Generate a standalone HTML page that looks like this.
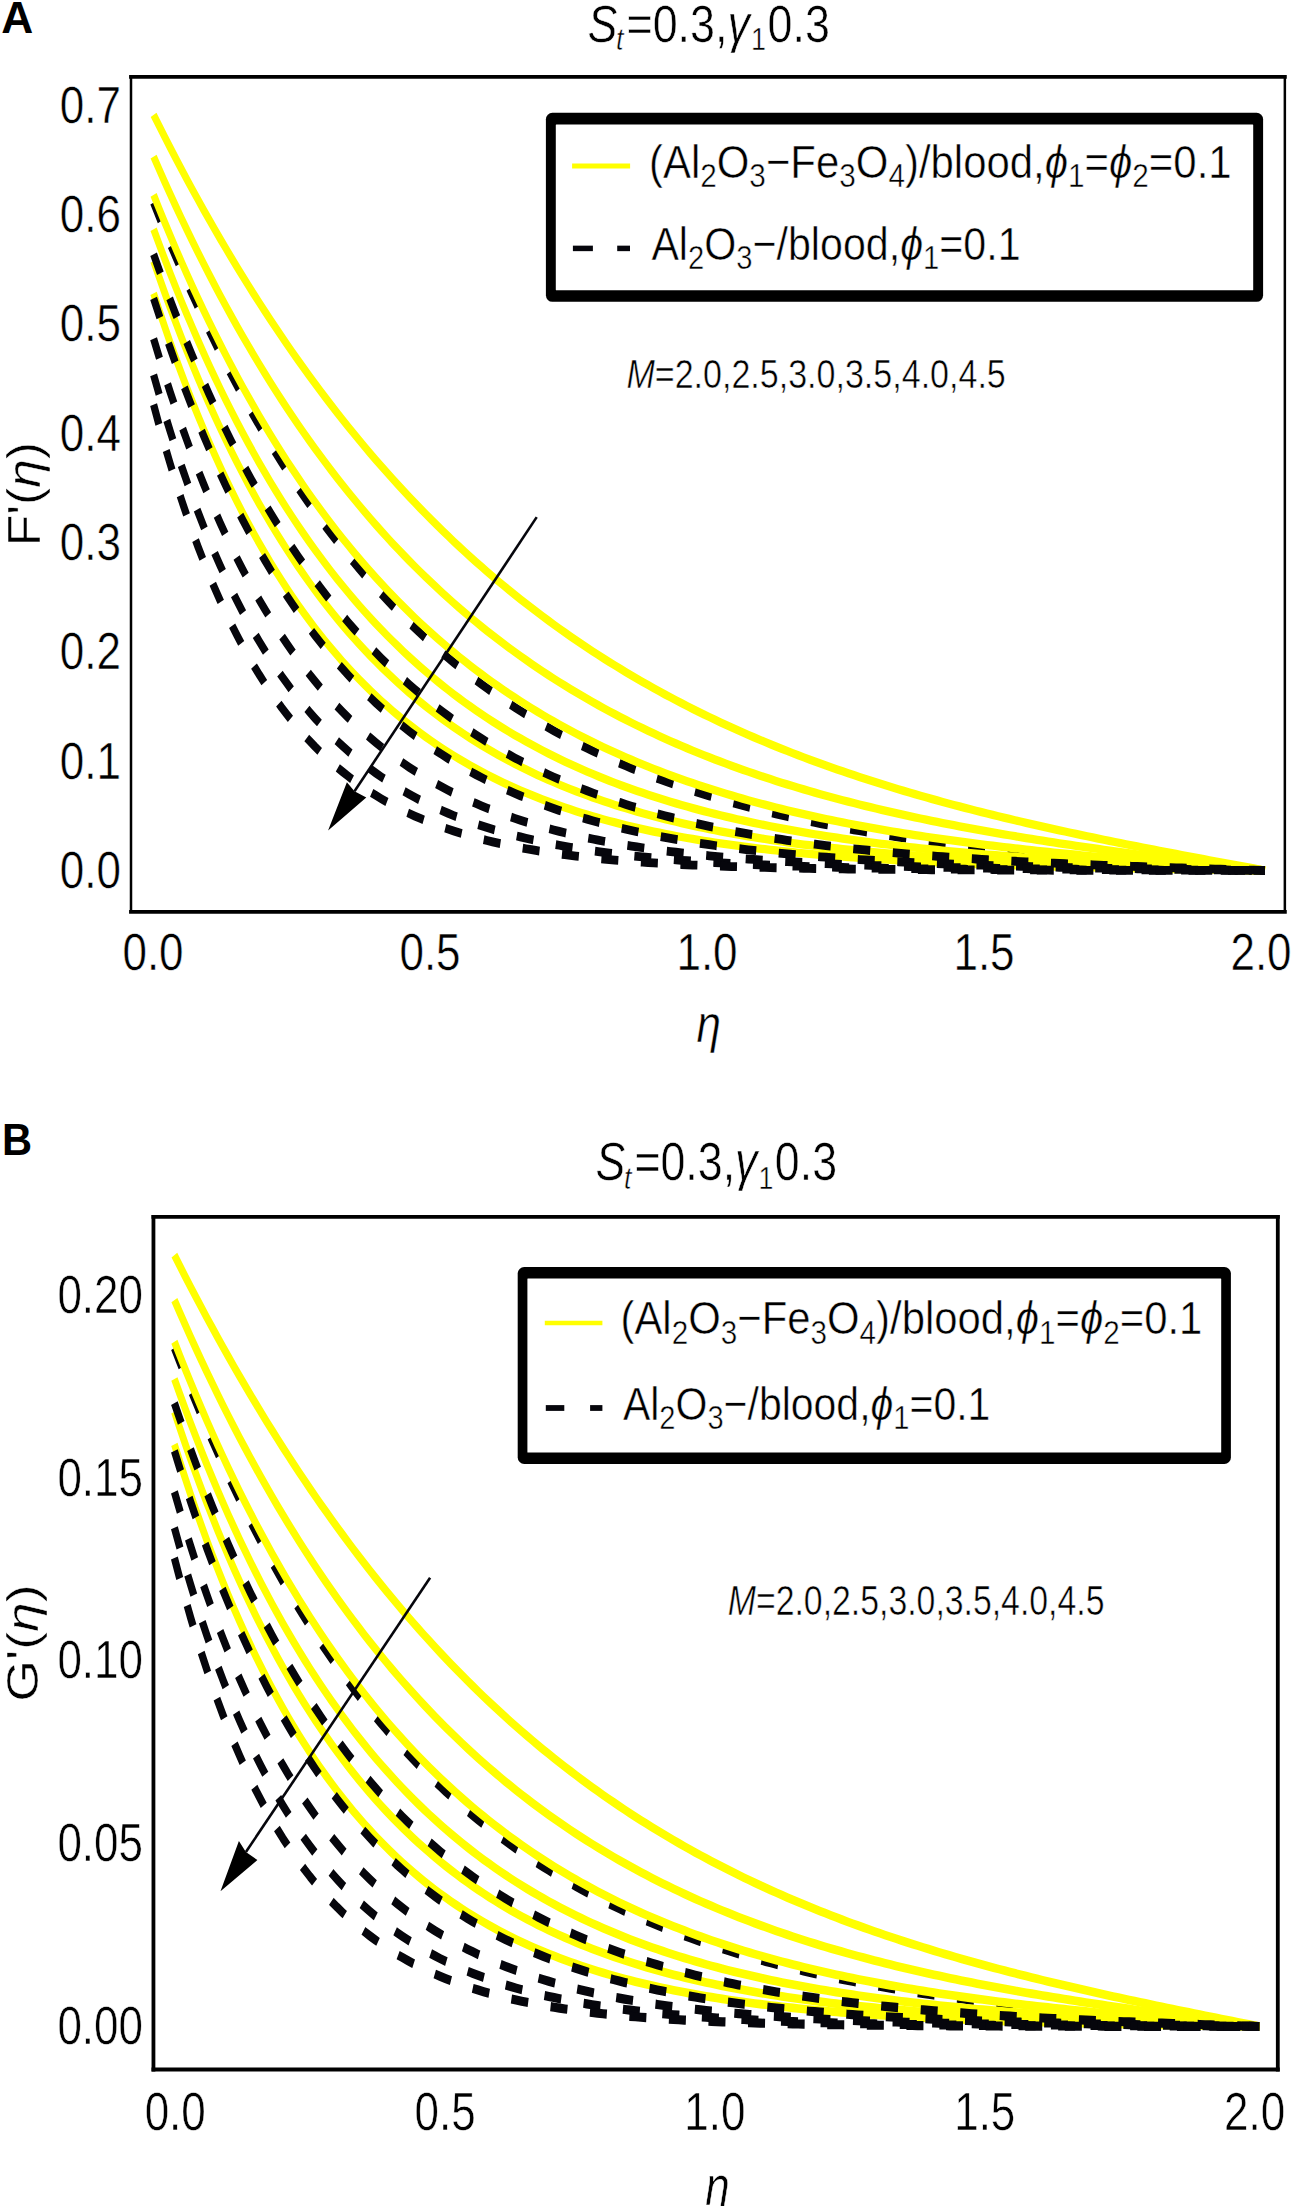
<!DOCTYPE html>
<html><head><meta charset="utf-8"><title>Figure</title>
<style>html,body{margin:0;padding:0;background:#fff}svg{display:block}</style></head><body>
<svg width="1294" height="2206" viewBox="0 0 1294 2206" font-family="'Liberation Sans', sans-serif" fill="#000">
<rect width="1294" height="2206" fill="#fff"/>
<g transform="scale(1 1.2200)" fill="none" stroke-linecap="butt" stroke-linejoin="round">
<path d="M153.60 166.04 L159.16 177.53 L164.71 188.79 L170.27 199.83 L175.83 210.63 L181.38 221.22 L186.94 231.60 L192.50 241.76 L198.06 251.72 L203.61 261.47 L209.17 271.02 L214.73 280.38 L220.28 289.55 L225.84 298.52 L231.40 307.32 L236.95 315.93 L242.51 324.37 L248.07 332.63 L253.63 340.73 L259.18 348.65 L264.74 356.42 L270.30 364.02 L275.85 371.47 L281.41 378.76 L286.97 385.90 L292.52 392.90 L298.08 399.75 L303.64 406.45 L309.20 413.02 L314.75 419.45 L320.31 425.75 L325.87 431.92 L331.42 437.95 L336.98 443.87 L342.54 449.66 L348.10 455.32 L353.65 460.87 L359.21 466.31 L364.77 471.63 L370.32 476.84 L375.88 481.93 L381.44 486.93 L386.99 491.81 L392.55 496.60 L398.11 501.28 L403.67 505.87 L409.22 510.36 L414.78 514.76 L420.34 519.06 L425.89 523.27 L431.45 527.39 L437.01 531.43 L442.56 535.38 L448.12 539.25 L453.68 543.03 L459.24 546.74 L464.79 550.36 L470.35 553.91 L475.91 557.39 L481.46 560.79 L487.02 564.12 L492.58 567.38 L498.13 570.57 L503.69 573.69 L509.25 576.74 L514.81 579.73 L520.36 582.66 L525.92 585.52 L531.48 588.33 L537.03 591.07 L542.59 593.75 L548.15 596.38 L553.70 598.95 L559.26 601.47 L564.82 603.93 L570.38 606.34 L575.93 608.70 L581.49 611.01 L587.05 613.27 L592.60 615.48 L598.16 617.65 L603.72 619.76 L609.27 621.84 L614.83 623.87 L620.39 625.85 L625.95 627.79 L631.50 629.69 L637.06 631.55 L642.62 633.38 L648.17 635.16 L653.73 636.90 L659.29 638.61 L664.84 640.28 L670.40 641.91 L675.96 643.51 L681.51 645.08 L687.07 646.61 L692.63 648.11 L698.19 649.58 L703.74 651.01 L709.30 652.42 L714.86 653.79 L720.41 655.14 L725.97 656.46 L731.53 657.75 L737.09 659.01 L742.64 660.24 L748.20 661.45 L753.76 662.64 L759.31 663.80 L764.87 664.93 L770.43 666.04 L775.98 667.13 L781.54 668.19 L787.10 669.23 L792.65 670.25 L798.21 671.25 L803.77 672.23 L809.33 673.19 L814.88 674.13 L820.44 675.04 L826.00 675.94 L831.55 676.82 L837.11 677.68 L842.67 678.53 L848.23 679.36 L853.78 680.17 L859.34 680.96 L864.90 681.74 L870.45 682.50 L876.01 683.24 L881.57 683.97 L887.12 684.69 L892.68 685.39 L898.24 686.08 L903.80 686.76 L909.35 687.42 L914.91 688.06 L920.47 688.70 L926.02 689.32 L931.58 689.93 L937.14 690.53 L942.69 691.12 L948.25 691.70 L953.81 692.26 L959.37 692.82 L964.92 693.36 L970.48 693.90 L976.04 694.42 L981.59 694.94 L987.15 695.44 L992.71 695.94 L998.26 696.43 L1003.82 696.91 L1009.38 697.38 L1014.94 697.84 L1020.49 698.30 L1026.05 698.74 L1031.61 699.18 L1037.16 699.62 L1042.72 700.04 L1048.28 700.46 L1053.83 700.88 L1059.39 701.28 L1064.95 701.68 L1070.50 702.08 L1076.06 702.47 L1081.62 702.85 L1087.18 703.23 L1092.73 703.60 L1098.29 703.97 L1103.85 704.33 L1109.40 704.69 L1114.96 705.04 L1120.52 705.39 L1126.08 705.74 L1131.63 706.08 L1137.19 706.42 L1142.75 706.75 L1148.30 707.08 L1153.86 707.41 L1159.42 707.73 L1164.97 708.05 L1170.53 708.37 L1176.09 708.69 L1181.64 709.00 L1187.20 709.32 L1192.76 709.62 L1198.32 709.93 L1203.87 710.24 L1209.43 710.54 L1214.99 710.84 L1220.54 711.15 L1226.10 711.45 L1231.66 711.74 L1237.21 712.04 L1242.77 712.34 L1248.33 712.64 L1253.89 712.93 L1259.44 713.23 L1265.00 713.52" stroke="#06060c" stroke-width="7.20" stroke-dasharray="17 22.6"/>
<path d="M153.60 94.10 L159.16 103.22 L164.71 112.23 L170.27 121.11 L175.83 129.88 L181.38 138.53 L186.94 147.06 L192.50 155.48 L198.06 163.78 L203.61 171.97 L209.17 180.05 L214.73 188.03 L220.28 195.89 L225.84 203.64 L231.40 211.30 L236.95 218.84 L242.51 226.28 L248.07 233.63 L253.63 240.87 L259.18 248.01 L264.74 255.05 L270.30 261.99 L275.85 268.84 L281.41 275.59 L286.97 282.25 L292.52 288.82 L298.08 295.30 L303.64 301.68 L309.20 307.98 L314.75 314.19 L320.31 320.31 L325.87 326.34 L331.42 332.29 L336.98 338.16 L342.54 343.94 L348.10 349.64 L353.65 355.26 L359.21 360.80 L364.77 366.27 L370.32 371.65 L375.88 376.96 L381.44 382.19 L386.99 387.35 L392.55 392.43 L398.11 397.45 L403.67 402.39 L409.22 407.25 L414.78 412.05 L420.34 416.78 L425.89 421.45 L431.45 426.04 L437.01 430.57 L442.56 435.03 L448.12 439.43 L453.68 443.77 L459.24 448.04 L464.79 452.25 L470.35 456.40 L475.91 460.49 L481.46 464.52 L487.02 468.49 L492.58 472.41 L498.13 476.26 L503.69 480.06 L509.25 483.81 L514.81 487.50 L520.36 491.14 L525.92 494.72 L531.48 498.25 L537.03 501.73 L542.59 505.16 L548.15 508.54 L553.70 511.87 L559.26 515.15 L564.82 518.38 L570.38 521.57 L575.93 524.71 L581.49 527.80 L587.05 530.85 L592.60 533.85 L598.16 536.81 L603.72 539.73 L609.27 542.60 L614.83 545.43 L620.39 548.22 L625.95 550.97 L631.50 553.68 L637.06 556.35 L642.62 558.98 L648.17 561.57 L653.73 564.13 L659.29 566.65 L664.84 569.13 L670.40 571.57 L675.96 573.98 L681.51 576.35 L687.07 578.69 L692.63 581.00 L698.19 583.27 L703.74 585.51 L709.30 587.72 L714.86 589.90 L720.41 592.04 L725.97 594.15 L731.53 596.24 L737.09 598.29 L742.64 600.31 L748.20 602.31 L753.76 604.28 L759.31 606.22 L764.87 608.13 L770.43 610.01 L775.98 611.87 L781.54 613.70 L787.10 615.51 L792.65 617.29 L798.21 619.05 L803.77 620.78 L809.33 622.49 L814.88 624.17 L820.44 625.84 L826.00 627.47 L831.55 629.09 L837.11 630.69 L842.67 632.26 L848.23 633.81 L853.78 635.34 L859.34 636.85 L864.90 638.35 L870.45 639.82 L876.01 641.27 L881.57 642.70 L887.12 644.12 L892.68 645.52 L898.24 646.90 L903.80 648.26 L909.35 649.60 L914.91 650.93 L920.47 652.24 L926.02 653.54 L931.58 654.82 L937.14 656.08 L942.69 657.33 L948.25 658.56 L953.81 659.78 L959.37 660.99 L964.92 662.18 L970.48 663.36 L976.04 664.52 L981.59 665.67 L987.15 666.81 L992.71 667.94 L998.26 669.06 L1003.82 670.16 L1009.38 671.25 L1014.94 672.33 L1020.49 673.40 L1026.05 674.46 L1031.61 675.51 L1037.16 676.54 L1042.72 677.57 L1048.28 678.59 L1053.83 679.60 L1059.39 680.60 L1064.95 681.59 L1070.50 682.57 L1076.06 683.55 L1081.62 684.52 L1087.18 685.48 L1092.73 686.43 L1098.29 687.37 L1103.85 688.31 L1109.40 689.24 L1114.96 690.16 L1120.52 691.08 L1126.08 691.99 L1131.63 692.90 L1137.19 693.80 L1142.75 694.69 L1148.30 695.58 L1153.86 696.47 L1159.42 697.35 L1164.97 698.23 L1170.53 699.10 L1176.09 699.97 L1181.64 700.83 L1187.20 701.69 L1192.76 702.55 L1198.32 703.41 L1203.87 704.26 L1209.43 705.11 L1214.99 705.96 L1220.54 706.80 L1226.10 707.65 L1231.66 708.49 L1237.21 709.33 L1242.77 710.17 L1248.33 711.01 L1253.89 711.85 L1259.44 712.69 L1265.00 713.52" stroke="#ffff00" stroke-width="6.80"/>
<path d="M153.60 128.41 L159.16 138.87 L164.71 149.14 L170.27 159.23 L175.83 169.14 L181.38 178.88 L186.94 188.44 L192.50 197.84 L198.06 207.07 L203.61 216.14 L209.17 225.05 L214.73 233.80 L220.28 242.40 L225.84 250.84 L231.40 259.14 L236.95 267.29 L242.51 275.30 L248.07 283.16 L253.63 290.89 L259.18 298.48 L264.74 305.93 L270.30 313.26 L275.85 320.45 L281.41 327.52 L286.97 334.46 L292.52 341.28 L298.08 347.98 L303.64 354.56 L309.20 361.02 L314.75 367.37 L320.31 373.60 L325.87 379.73 L331.42 385.75 L336.98 391.66 L342.54 397.47 L348.10 403.17 L353.65 408.77 L359.21 414.28 L364.77 419.68 L370.32 424.99 L375.88 430.21 L381.44 435.33 L386.99 440.36 L392.55 445.31 L398.11 450.16 L403.67 454.93 L409.22 459.62 L414.78 464.22 L420.34 468.74 L425.89 473.18 L431.45 477.55 L437.01 481.83 L442.56 486.04 L448.12 490.17 L453.68 494.24 L459.24 498.22 L464.79 502.14 L470.35 505.99 L475.91 509.77 L481.46 513.49 L487.02 517.14 L492.58 520.72 L498.13 524.24 L503.69 527.70 L509.25 531.10 L514.81 534.43 L520.36 537.71 L525.92 540.93 L531.48 544.10 L537.03 547.20 L542.59 550.26 L548.15 553.26 L553.70 556.20 L559.26 559.10 L564.82 561.94 L570.38 564.73 L575.93 567.48 L581.49 570.17 L587.05 572.82 L592.60 575.42 L598.16 577.98 L603.72 580.49 L609.27 582.96 L614.83 585.38 L620.39 587.77 L625.95 590.11 L631.50 592.41 L637.06 594.67 L642.62 596.89 L648.17 599.07 L653.73 601.21 L659.29 603.32 L664.84 605.39 L670.40 607.42 L675.96 609.42 L681.51 611.38 L687.07 613.31 L692.63 615.21 L698.19 617.07 L703.74 618.91 L709.30 620.71 L714.86 622.48 L720.41 624.22 L725.97 625.93 L731.53 627.61 L737.09 629.26 L742.64 630.88 L748.20 632.48 L753.76 634.05 L759.31 635.59 L764.87 637.11 L770.43 638.60 L775.98 640.07 L781.54 641.51 L787.10 642.93 L792.65 644.33 L798.21 645.70 L803.77 647.05 L809.33 648.37 L814.88 649.68 L820.44 650.96 L826.00 652.23 L831.55 653.47 L837.11 654.69 L842.67 655.89 L848.23 657.08 L853.78 658.24 L859.34 659.39 L864.90 660.52 L870.45 661.63 L876.01 662.72 L881.57 663.80 L887.12 664.86 L892.68 665.90 L898.24 666.93 L903.80 667.94 L909.35 668.94 L914.91 669.92 L920.47 670.89 L926.02 671.84 L931.58 672.78 L937.14 673.71 L942.69 674.62 L948.25 675.52 L953.81 676.40 L959.37 677.28 L964.92 678.14 L970.48 678.99 L976.04 679.83 L981.59 680.66 L987.15 681.47 L992.71 682.28 L998.26 683.07 L1003.82 683.86 L1009.38 684.63 L1014.94 685.40 L1020.49 686.15 L1026.05 686.90 L1031.61 687.64 L1037.16 688.37 L1042.72 689.09 L1048.28 689.80 L1053.83 690.50 L1059.39 691.20 L1064.95 691.89 L1070.50 692.57 L1076.06 693.25 L1081.62 693.92 L1087.18 694.58 L1092.73 695.23 L1098.29 695.88 L1103.85 696.52 L1109.40 697.16 L1114.96 697.79 L1120.52 698.42 L1126.08 699.04 L1131.63 699.66 L1137.19 700.27 L1142.75 700.88 L1148.30 701.48 L1153.86 702.08 L1159.42 702.68 L1164.97 703.27 L1170.53 703.86 L1176.09 704.44 L1181.64 705.03 L1187.20 705.61 L1192.76 706.18 L1198.32 706.76 L1203.87 707.33 L1209.43 707.90 L1214.99 708.47 L1220.54 709.03 L1226.10 709.60 L1231.66 710.16 L1237.21 710.72 L1242.77 711.28 L1248.33 711.85 L1253.89 712.41 L1259.44 712.97 L1265.00 713.52" stroke="#ffff00" stroke-width="6.80"/>
<path d="M153.60 159.68 L159.16 171.09 L164.71 182.26 L170.27 193.21 L175.83 203.93 L181.38 214.44 L186.94 224.73 L192.50 234.81 L198.06 244.68 L203.61 254.36 L209.17 263.83 L214.73 273.11 L220.28 282.20 L225.84 291.11 L231.40 299.83 L236.95 308.38 L242.51 316.75 L248.07 324.95 L253.63 332.98 L259.18 340.85 L264.74 348.55 L270.30 356.10 L275.85 363.50 L281.41 370.74 L286.97 377.83 L292.52 384.78 L298.08 391.59 L303.64 398.25 L309.20 404.78 L314.75 411.18 L320.31 417.45 L325.87 423.58 L331.42 429.59 L336.98 435.48 L342.54 441.25 L348.10 446.89 L353.65 452.43 L359.21 457.84 L364.77 463.15 L370.32 468.35 L375.88 473.44 L381.44 478.43 L386.99 483.31 L392.55 488.10 L398.11 492.78 L403.67 497.37 L409.22 501.87 L414.78 506.27 L420.34 510.58 L425.89 514.81 L431.45 518.94 L437.01 523.00 L442.56 526.96 L448.12 530.85 L453.68 534.66 L459.24 538.39 L464.79 542.04 L470.35 545.62 L475.91 549.12 L481.46 552.55 L487.02 555.91 L492.58 559.21 L498.13 562.43 L503.69 565.59 L509.25 568.68 L514.81 571.71 L520.36 574.68 L525.92 577.59 L531.48 580.43 L537.03 583.22 L542.59 585.95 L548.15 588.63 L553.70 591.25 L559.26 593.81 L564.82 596.33 L570.38 598.79 L575.93 601.20 L581.49 603.57 L587.05 605.88 L592.60 608.15 L598.16 610.37 L603.72 612.54 L609.27 614.67 L614.83 616.76 L620.39 618.80 L625.95 620.80 L631.50 622.76 L637.06 624.69 L642.62 626.57 L648.17 628.41 L653.73 630.22 L659.29 631.99 L664.84 633.72 L670.40 635.42 L675.96 637.08 L681.51 638.71 L687.07 640.31 L692.63 641.87 L698.19 643.41 L703.74 644.91 L709.30 646.38 L714.86 647.82 L720.41 649.23 L725.97 650.62 L731.53 651.97 L737.09 653.30 L742.64 654.61 L748.20 655.88 L753.76 657.13 L759.31 658.36 L764.87 659.56 L770.43 660.74 L775.98 661.89 L781.54 663.02 L787.10 664.13 L792.65 665.22 L798.21 666.29 L803.77 667.33 L809.33 668.35 L814.88 669.36 L820.44 670.34 L826.00 671.31 L831.55 672.25 L837.11 673.18 L842.67 674.09 L848.23 674.99 L853.78 675.86 L859.34 676.72 L864.90 677.56 L870.45 678.39 L876.01 679.20 L881.57 680.00 L887.12 680.78 L892.68 681.55 L898.24 682.30 L903.80 683.04 L909.35 683.76 L914.91 684.47 L920.47 685.17 L926.02 685.86 L931.58 686.53 L937.14 687.19 L942.69 687.84 L948.25 688.48 L953.81 689.11 L959.37 689.73 L964.92 690.33 L970.48 690.93 L976.04 691.51 L981.59 692.09 L987.15 692.66 L992.71 693.21 L998.26 693.76 L1003.82 694.30 L1009.38 694.83 L1014.94 695.36 L1020.49 695.87 L1026.05 696.38 L1031.61 696.87 L1037.16 697.37 L1042.72 697.85 L1048.28 698.33 L1053.83 698.80 L1059.39 699.26 L1064.95 699.72 L1070.50 700.17 L1076.06 700.62 L1081.62 701.06 L1087.18 701.49 L1092.73 701.92 L1098.29 702.34 L1103.85 702.76 L1109.40 703.18 L1114.96 703.59 L1120.52 703.99 L1126.08 704.39 L1131.63 704.79 L1137.19 705.18 L1142.75 705.57 L1148.30 705.96 L1153.86 706.34 L1159.42 706.72 L1164.97 707.09 L1170.53 707.47 L1176.09 707.84 L1181.64 708.20 L1187.20 708.57 L1192.76 708.93 L1198.32 709.29 L1203.87 709.65 L1209.43 710.01 L1214.99 710.37 L1220.54 710.72 L1226.10 711.07 L1231.66 711.43 L1237.21 711.78 L1242.77 712.13 L1248.33 712.48 L1253.89 712.83 L1259.44 713.18 L1265.00 713.52" stroke="#ffff00" stroke-width="6.80"/>
<path d="M153.60 187.90 L159.16 200.26 L164.71 212.34 L170.27 224.13 L175.83 235.65 L181.38 246.90 L186.94 257.89 L192.50 268.62 L198.06 279.10 L203.61 289.33 L209.17 299.32 L214.73 309.08 L220.28 318.62 L225.84 327.92 L231.40 337.02 L236.95 345.89 L242.51 354.56 L248.07 363.03 L253.63 371.30 L259.18 379.37 L264.74 387.26 L270.30 394.96 L275.85 402.48 L281.41 409.82 L286.97 416.99 L292.52 424.00 L298.08 430.84 L303.64 437.51 L309.20 444.04 L314.75 450.40 L320.31 456.62 L325.87 462.70 L331.42 468.63 L336.98 474.42 L342.54 480.07 L348.10 485.59 L353.65 490.99 L359.21 496.25 L364.77 501.39 L370.32 506.41 L375.88 511.32 L381.44 516.10 L386.99 520.78 L392.55 525.34 L398.11 529.80 L403.67 534.15 L409.22 538.40 L414.78 542.55 L420.34 546.61 L425.89 550.56 L431.45 554.43 L437.01 558.20 L442.56 561.89 L448.12 565.48 L453.68 569.00 L459.24 572.43 L464.79 575.77 L470.35 579.05 L475.91 582.24 L481.46 585.36 L487.02 588.40 L492.58 591.37 L498.13 594.28 L503.69 597.11 L509.25 599.88 L514.81 602.58 L520.36 605.22 L525.92 607.80 L531.48 610.31 L537.03 612.77 L542.59 615.17 L548.15 617.51 L553.70 619.80 L559.26 622.03 L564.82 624.21 L570.38 626.34 L575.93 628.42 L581.49 630.45 L587.05 632.44 L592.60 634.37 L598.16 636.26 L603.72 638.11 L609.27 639.91 L614.83 641.67 L620.39 643.39 L625.95 645.07 L631.50 646.71 L637.06 648.31 L642.62 649.87 L648.17 651.40 L653.73 652.89 L659.29 654.34 L664.84 655.76 L670.40 657.15 L675.96 658.51 L681.51 659.83 L687.07 661.12 L692.63 662.38 L698.19 663.62 L703.74 664.82 L709.30 666.00 L714.86 667.15 L720.41 668.27 L725.97 669.36 L731.53 670.43 L737.09 671.48 L742.64 672.50 L748.20 673.50 L753.76 674.47 L759.31 675.42 L764.87 676.35 L770.43 677.26 L775.98 678.14 L781.54 679.01 L787.10 679.86 L792.65 680.68 L798.21 681.49 L803.77 682.28 L809.33 683.05 L814.88 683.81 L820.44 684.54 L826.00 685.26 L831.55 685.97 L837.11 686.65 L842.67 687.33 L848.23 687.98 L853.78 688.62 L859.34 689.25 L864.90 689.86 L870.45 690.46 L876.01 691.05 L881.57 691.62 L887.12 692.18 L892.68 692.73 L898.24 693.27 L903.80 693.79 L909.35 694.31 L914.91 694.81 L920.47 695.30 L926.02 695.78 L931.58 696.25 L937.14 696.71 L942.69 697.16 L948.25 697.60 L953.81 698.03 L959.37 698.45 L964.92 698.87 L970.48 699.27 L976.04 699.67 L981.59 700.06 L987.15 700.44 L992.71 700.82 L998.26 701.18 L1003.82 701.54 L1009.38 701.89 L1014.94 702.24 L1020.49 702.58 L1026.05 702.91 L1031.61 703.24 L1037.16 703.56 L1042.72 703.87 L1048.28 704.18 L1053.83 704.48 L1059.39 704.78 L1064.95 705.08 L1070.50 705.36 L1076.06 705.65 L1081.62 705.93 L1087.18 706.20 L1092.73 706.47 L1098.29 706.74 L1103.85 707.00 L1109.40 707.26 L1114.96 707.51 L1120.52 707.77 L1126.08 708.01 L1131.63 708.26 L1137.19 708.50 L1142.75 708.74 L1148.30 708.98 L1153.86 709.21 L1159.42 709.44 L1164.97 709.67 L1170.53 709.89 L1176.09 710.12 L1181.64 710.34 L1187.20 710.56 L1192.76 710.78 L1198.32 711.00 L1203.87 711.21 L1209.43 711.43 L1214.99 711.64 L1220.54 711.85 L1226.10 712.06 L1231.66 712.27 L1237.21 712.48 L1242.77 712.69 L1248.33 712.90 L1253.89 713.11 L1259.44 713.32 L1265.00 713.52" stroke="#ffff00" stroke-width="6.80"/>
<path d="M153.60 213.97 L159.16 227.13 L164.71 239.95 L170.27 252.43 L175.83 264.59 L181.38 276.43 L186.94 287.95 L192.50 299.17 L198.06 310.10 L203.61 320.75 L209.17 331.11 L214.73 341.20 L220.28 351.03 L225.84 360.60 L231.40 369.91 L236.95 378.98 L242.51 387.82 L248.07 396.42 L253.63 404.80 L259.18 412.95 L264.74 420.89 L270.30 428.63 L275.85 436.15 L281.41 443.49 L286.97 450.62 L292.52 457.57 L298.08 464.34 L303.64 470.93 L309.20 477.35 L314.75 483.59 L320.31 489.68 L325.87 495.60 L331.42 501.37 L336.98 506.98 L342.54 512.45 L348.10 517.77 L353.65 522.95 L359.21 528.00 L364.77 532.91 L370.32 537.70 L375.88 542.35 L381.44 546.89 L386.99 551.30 L392.55 555.60 L398.11 559.79 L403.67 563.86 L409.22 567.83 L414.78 571.69 L420.34 575.45 L425.89 579.11 L431.45 582.68 L437.01 586.15 L442.56 589.53 L448.12 592.82 L453.68 596.02 L459.24 599.14 L464.79 602.17 L470.35 605.13 L475.91 608.01 L481.46 610.81 L487.02 613.53 L492.58 616.19 L498.13 618.78 L503.69 621.29 L509.25 623.74 L514.81 626.13 L520.36 628.45 L525.92 630.71 L531.48 632.91 L537.03 635.06 L542.59 637.14 L548.15 639.18 L553.70 641.15 L559.26 643.08 L564.82 644.95 L570.38 646.78 L575.93 648.56 L581.49 650.29 L587.05 651.97 L592.60 653.61 L598.16 655.21 L603.72 656.76 L609.27 658.27 L614.83 659.75 L620.39 661.18 L625.95 662.58 L631.50 663.94 L637.06 665.26 L642.62 666.55 L648.17 667.80 L653.73 669.03 L659.29 670.22 L664.84 671.37 L670.40 672.50 L675.96 673.60 L681.51 674.67 L687.07 675.71 L692.63 676.72 L698.19 677.71 L703.74 678.67 L709.30 679.60 L714.86 680.51 L720.41 681.40 L725.97 682.26 L731.53 683.10 L737.09 683.92 L742.64 684.72 L748.20 685.49 L753.76 686.25 L759.31 686.99 L764.87 687.70 L770.43 688.40 L775.98 689.08 L781.54 689.74 L787.10 690.39 L792.65 691.01 L798.21 691.63 L803.77 692.22 L809.33 692.80 L814.88 693.37 L820.44 693.92 L826.00 694.45 L831.55 694.98 L837.11 695.48 L842.67 695.98 L848.23 696.46 L853.78 696.93 L859.34 697.39 L864.90 697.84 L870.45 698.27 L876.01 698.70 L881.57 699.11 L887.12 699.51 L892.68 699.91 L898.24 700.29 L903.80 700.66 L909.35 701.03 L914.91 701.38 L920.47 701.73 L926.02 702.06 L931.58 702.39 L937.14 702.71 L942.69 703.03 L948.25 703.33 L953.81 703.63 L959.37 703.92 L964.92 704.21 L970.48 704.48 L976.04 704.75 L981.59 705.02 L987.15 705.27 L992.71 705.53 L998.26 705.77 L1003.82 706.01 L1009.38 706.25 L1014.94 706.48 L1020.49 706.70 L1026.05 706.92 L1031.61 707.14 L1037.16 707.35 L1042.72 707.55 L1048.28 707.75 L1053.83 707.95 L1059.39 708.14 L1064.95 708.33 L1070.50 708.52 L1076.06 708.70 L1081.62 708.88 L1087.18 709.05 L1092.73 709.22 L1098.29 709.39 L1103.85 709.56 L1109.40 709.72 L1114.96 709.88 L1120.52 710.03 L1126.08 710.19 L1131.63 710.34 L1137.19 710.49 L1142.75 710.64 L1148.30 710.78 L1153.86 710.93 L1159.42 711.07 L1164.97 711.21 L1170.53 711.34 L1176.09 711.48 L1181.64 711.62 L1187.20 711.75 L1192.76 711.88 L1198.32 712.01 L1203.87 712.14 L1209.43 712.27 L1214.99 712.40 L1220.54 712.53 L1226.10 712.65 L1231.66 712.78 L1237.21 712.90 L1242.77 713.03 L1248.33 713.15 L1253.89 713.28 L1259.44 713.40 L1265.00 713.52" stroke="#ffff00" stroke-width="6.80"/>
<path d="M153.60 240.49 L159.16 254.38 L164.71 267.86 L170.27 280.95 L175.83 293.66 L181.38 305.99 L186.94 317.97 L192.50 329.59 L198.06 340.87 L203.61 351.83 L209.17 362.46 L214.73 372.78 L220.28 382.80 L225.84 392.53 L231.40 401.97 L236.95 411.13 L242.51 420.03 L248.07 428.66 L253.63 437.04 L259.18 445.18 L264.74 453.08 L270.30 460.74 L275.85 468.19 L281.41 475.41 L286.97 482.42 L292.52 489.23 L298.08 495.83 L303.64 502.24 L309.20 508.47 L314.75 514.51 L320.31 520.37 L325.87 526.06 L331.42 531.59 L336.98 536.95 L342.54 542.16 L348.10 547.21 L353.65 552.11 L359.21 556.87 L364.77 561.49 L370.32 565.97 L375.88 570.33 L381.44 574.55 L386.99 578.65 L392.55 582.63 L398.11 586.49 L403.67 590.24 L409.22 593.88 L414.78 597.41 L420.34 600.84 L425.89 604.16 L431.45 607.39 L437.01 610.53 L442.56 613.57 L448.12 616.52 L453.68 619.39 L459.24 622.17 L464.79 624.87 L470.35 627.48 L475.91 630.03 L481.46 632.49 L487.02 634.89 L492.58 637.21 L498.13 639.47 L503.69 641.66 L509.25 643.78 L514.81 645.84 L520.36 647.85 L525.92 649.79 L531.48 651.67 L537.03 653.50 L542.59 655.28 L548.15 657.00 L553.70 658.67 L559.26 660.30 L564.82 661.87 L570.38 663.40 L575.93 664.89 L581.49 666.33 L587.05 667.72 L592.60 669.08 L598.16 670.40 L603.72 671.67 L609.27 672.91 L614.83 674.12 L620.39 675.29 L625.95 676.42 L631.50 677.52 L637.06 678.59 L642.62 679.62 L648.17 680.63 L653.73 681.60 L659.29 682.55 L664.84 683.47 L670.40 684.36 L675.96 685.23 L681.51 686.07 L687.07 686.89 L692.63 687.68 L698.19 688.45 L703.74 689.19 L709.30 689.91 L714.86 690.62 L720.41 691.30 L725.97 691.96 L731.53 692.60 L737.09 693.23 L742.64 693.83 L748.20 694.42 L753.76 694.99 L759.31 695.54 L764.87 696.08 L770.43 696.60 L775.98 697.11 L781.54 697.60 L787.10 698.07 L792.65 698.54 L798.21 698.99 L803.77 699.42 L809.33 699.85 L814.88 700.26 L820.44 700.66 L826.00 701.04 L831.55 701.42 L837.11 701.79 L842.67 702.14 L848.23 702.49 L853.78 702.82 L859.34 703.14 L864.90 703.46 L870.45 703.77 L876.01 704.06 L881.57 704.35 L887.12 704.63 L892.68 704.91 L898.24 705.17 L903.80 705.43 L909.35 705.68 L914.91 705.92 L920.47 706.16 L926.02 706.39 L931.58 706.61 L937.14 706.82 L942.69 707.03 L948.25 707.24 L953.81 707.44 L959.37 707.63 L964.92 707.82 L970.48 708.00 L976.04 708.18 L981.59 708.35 L987.15 708.52 L992.71 708.69 L998.26 708.85 L1003.82 709.00 L1009.38 709.15 L1014.94 709.30 L1020.49 709.44 L1026.05 709.58 L1031.61 709.72 L1037.16 709.85 L1042.72 709.98 L1048.28 710.11 L1053.83 710.23 L1059.39 710.35 L1064.95 710.47 L1070.50 710.58 L1076.06 710.69 L1081.62 710.80 L1087.18 710.91 L1092.73 711.01 L1098.29 711.12 L1103.85 711.22 L1109.40 711.31 L1114.96 711.41 L1120.52 711.50 L1126.08 711.60 L1131.63 711.69 L1137.19 711.77 L1142.75 711.86 L1148.30 711.95 L1153.86 712.03 L1159.42 712.11 L1164.97 712.20 L1170.53 712.28 L1176.09 712.35 L1181.64 712.43 L1187.20 712.51 L1192.76 712.59 L1198.32 712.66 L1203.87 712.74 L1209.43 712.81 L1214.99 712.88 L1220.54 712.96 L1226.10 713.03 L1231.66 713.10 L1237.21 713.17 L1242.77 713.24 L1248.33 713.31 L1253.89 713.38 L1259.44 713.45 L1265.00 713.52" stroke="#ffff00" stroke-width="6.80"/>
<path d="M153.60 208.42 L159.16 221.24 L164.71 233.74 L170.27 245.93 L175.83 257.82 L181.38 269.42 L186.94 280.72 L192.50 291.75 L198.06 302.50 L203.61 312.98 L209.17 323.20 L214.73 333.17 L220.28 342.89 L225.84 352.36 L231.40 361.60 L236.95 370.60 L242.51 379.38 L248.07 387.94 L253.63 396.29 L259.18 404.42 L264.74 412.35 L270.30 420.09 L275.85 427.62 L281.41 434.97 L286.97 442.13 L292.52 449.11 L298.08 455.92 L303.64 462.55 L309.20 469.02 L314.75 475.32 L320.31 481.46 L325.87 487.45 L331.42 493.29 L336.98 498.98 L342.54 504.52 L348.10 509.92 L353.65 515.19 L359.21 520.32 L364.77 525.32 L370.32 530.19 L375.88 534.94 L381.44 539.57 L386.99 544.08 L392.55 548.48 L398.11 552.76 L403.67 556.94 L409.22 561.00 L414.78 564.97 L420.34 568.83 L425.89 572.59 L431.45 576.26 L437.01 579.83 L442.56 583.32 L448.12 586.71 L453.68 590.01 L459.24 593.23 L464.79 596.37 L470.35 599.43 L475.91 602.41 L481.46 605.31 L487.02 608.14 L492.58 610.89 L498.13 613.57 L503.69 616.19 L509.25 618.74 L514.81 621.22 L520.36 623.63 L525.92 625.99 L531.48 628.28 L537.03 630.52 L542.59 632.69 L548.15 634.82 L553.70 636.88 L559.26 638.89 L564.82 640.85 L570.38 642.76 L575.93 644.62 L581.49 646.44 L587.05 648.20 L592.60 649.92 L598.16 651.60 L603.72 653.23 L609.27 654.82 L614.83 656.36 L620.39 657.87 L625.95 659.34 L631.50 660.77 L637.06 662.16 L642.62 663.52 L648.17 664.84 L653.73 666.13 L659.29 667.39 L664.84 668.61 L670.40 669.80 L675.96 670.96 L681.51 672.09 L687.07 673.18 L692.63 674.26 L698.19 675.30 L703.74 676.32 L709.30 677.31 L714.86 678.27 L720.41 679.21 L725.97 680.12 L731.53 681.01 L737.09 681.88 L742.64 682.73 L748.20 683.55 L753.76 684.35 L759.31 685.13 L764.87 685.90 L770.43 686.64 L775.98 687.36 L781.54 688.06 L787.10 688.75 L792.65 689.42 L798.21 690.07 L803.77 690.70 L809.33 691.32 L814.88 691.92 L820.44 692.51 L826.00 693.08 L831.55 693.64 L837.11 694.18 L842.67 694.71 L848.23 695.22 L853.78 695.72 L859.34 696.21 L864.90 696.69 L870.45 697.15 L876.01 697.61 L881.57 698.05 L887.12 698.48 L892.68 698.90 L898.24 699.31 L903.80 699.71 L909.35 700.10 L914.91 700.48 L920.47 700.85 L926.02 701.21 L931.58 701.56 L937.14 701.90 L942.69 702.24 L948.25 702.56 L953.81 702.88 L959.37 703.20 L964.92 703.50 L970.48 703.80 L976.04 704.09 L981.59 704.37 L987.15 704.65 L992.71 704.92 L998.26 705.18 L1003.82 705.44 L1009.38 705.69 L1014.94 705.94 L1020.49 706.18 L1026.05 706.41 L1031.61 706.64 L1037.16 706.87 L1042.72 707.09 L1048.28 707.31 L1053.83 707.52 L1059.39 707.73 L1064.95 707.93 L1070.50 708.13 L1076.06 708.32 L1081.62 708.51 L1087.18 708.70 L1092.73 708.89 L1098.29 709.07 L1103.85 709.25 L1109.40 709.42 L1114.96 709.59 L1120.52 709.76 L1126.08 709.93 L1131.63 710.09 L1137.19 710.25 L1142.75 710.41 L1148.30 710.57 L1153.86 710.72 L1159.42 710.87 L1164.97 711.02 L1170.53 711.17 L1176.09 711.32 L1181.64 711.47 L1187.20 711.61 L1192.76 711.75 L1198.32 711.89 L1203.87 712.03 L1209.43 712.17 L1214.99 712.31 L1220.54 712.45 L1226.10 712.58 L1231.66 712.72 L1237.21 712.85 L1242.77 712.99 L1248.33 713.12 L1253.89 713.26 L1259.44 713.39 L1265.00 713.52" stroke="#06060c" stroke-width="7.20" stroke-dasharray="17 22.6"/>
<path d="M153.60 244.52 L159.16 258.59 L164.71 272.24 L170.27 285.49 L175.83 298.35 L181.38 310.83 L186.94 322.93 L192.50 334.68 L198.06 346.08 L203.61 357.14 L209.17 367.87 L214.73 378.29 L220.28 388.39 L225.84 398.20 L231.40 407.71 L236.95 416.94 L242.51 425.89 L248.07 434.58 L253.63 443.01 L259.18 451.18 L264.74 459.12 L270.30 466.81 L275.85 474.28 L281.41 481.52 L286.97 488.55 L292.52 495.36 L298.08 501.97 L303.64 508.39 L309.20 514.61 L314.75 520.64 L320.31 526.50 L325.87 532.17 L331.42 537.68 L336.98 543.02 L342.54 548.21 L348.10 553.23 L353.65 558.11 L359.21 562.83 L364.77 567.42 L370.32 571.87 L375.88 576.18 L381.44 580.36 L386.99 584.42 L392.55 588.36 L398.11 592.17 L403.67 595.87 L409.22 599.46 L414.78 602.94 L420.34 606.32 L425.89 609.59 L431.45 612.77 L437.01 615.85 L442.56 618.83 L448.12 621.73 L453.68 624.53 L459.24 627.26 L464.79 629.90 L470.35 632.45 L475.91 634.94 L481.46 637.34 L487.02 639.68 L492.58 641.94 L498.13 644.13 L503.69 646.26 L509.25 648.32 L514.81 650.32 L520.36 652.26 L525.92 654.14 L531.48 655.96 L537.03 657.73 L542.59 659.44 L548.15 661.10 L553.70 662.71 L559.26 664.28 L564.82 665.79 L570.38 667.26 L575.93 668.68 L581.49 670.06 L587.05 671.40 L592.60 672.69 L598.16 673.95 L603.72 675.17 L609.27 676.35 L614.83 677.50 L620.39 678.61 L625.95 679.68 L631.50 680.73 L637.06 681.74 L642.62 682.72 L648.17 683.67 L653.73 684.59 L659.29 685.48 L664.84 686.35 L670.40 687.19 L675.96 688.00 L681.51 688.79 L687.07 689.55 L692.63 690.30 L698.19 691.01 L703.74 691.71 L709.30 692.39 L714.86 693.04 L720.41 693.68 L725.97 694.29 L731.53 694.89 L737.09 695.47 L742.64 696.03 L748.20 696.57 L753.76 697.10 L759.31 697.61 L764.87 698.10 L770.43 698.58 L775.98 699.05 L781.54 699.50 L787.10 699.93 L792.65 700.36 L798.21 700.77 L803.77 701.17 L809.33 701.55 L814.88 701.93 L820.44 702.29 L826.00 702.64 L831.55 702.98 L837.11 703.31 L842.67 703.63 L848.23 703.94 L853.78 704.25 L859.34 704.54 L864.90 704.82 L870.45 705.10 L876.01 705.36 L881.57 705.62 L887.12 705.87 L892.68 706.12 L898.24 706.35 L903.80 706.58 L909.35 706.80 L914.91 707.02 L920.47 707.23 L926.02 707.43 L931.58 707.63 L937.14 707.82 L942.69 708.01 L948.25 708.19 L953.81 708.36 L959.37 708.53 L964.92 708.69 L970.48 708.85 L976.04 709.01 L981.59 709.16 L987.15 709.31 L992.71 709.45 L998.26 709.59 L1003.82 709.72 L1009.38 709.85 L1014.94 709.98 L1020.49 710.10 L1026.05 710.22 L1031.61 710.34 L1037.16 710.46 L1042.72 710.57 L1048.28 710.67 L1053.83 710.78 L1059.39 710.88 L1064.95 710.98 L1070.50 711.08 L1076.06 711.17 L1081.62 711.27 L1087.18 711.36 L1092.73 711.44 L1098.29 711.53 L1103.85 711.61 L1109.40 711.70 L1114.96 711.78 L1120.52 711.86 L1126.08 711.93 L1131.63 712.01 L1137.19 712.08 L1142.75 712.16 L1148.30 712.23 L1153.86 712.30 L1159.42 712.37 L1164.97 712.43 L1170.53 712.50 L1176.09 712.56 L1181.64 712.63 L1187.20 712.69 L1192.76 712.76 L1198.32 712.82 L1203.87 712.88 L1209.43 712.94 L1214.99 713.00 L1220.54 713.06 L1226.10 713.12 L1231.66 713.18 L1237.21 713.24 L1242.77 713.29 L1248.33 713.35 L1253.89 713.41 L1259.44 713.47 L1265.00 713.52" stroke="#06060c" stroke-width="7.20" stroke-dasharray="17 22.6"/>
<path d="M153.60 277.67 L159.16 292.83 L164.71 307.47 L170.27 321.60 L175.83 335.25 L181.38 348.43 L186.94 361.15 L192.50 373.43 L198.06 385.29 L203.61 396.74 L209.17 407.79 L214.73 418.46 L220.28 428.76 L225.84 438.70 L231.40 448.30 L236.95 457.57 L242.51 466.51 L248.07 475.15 L253.63 483.48 L259.18 491.53 L264.74 499.30 L270.30 506.80 L275.85 514.03 L281.41 521.02 L286.97 527.76 L292.52 534.27 L298.08 540.55 L303.64 546.62 L309.20 552.47 L314.75 558.12 L320.31 563.57 L325.87 568.84 L331.42 573.91 L336.98 578.82 L342.54 583.55 L348.10 588.11 L353.65 592.52 L359.21 596.77 L364.77 600.88 L370.32 604.84 L375.88 608.66 L381.44 612.35 L386.99 615.91 L392.55 619.35 L398.11 622.66 L403.67 625.86 L409.22 628.95 L414.78 631.93 L420.34 634.80 L425.89 637.58 L431.45 640.25 L437.01 642.84 L442.56 645.33 L448.12 647.73 L453.68 650.06 L459.24 652.30 L464.79 654.46 L470.35 656.54 L475.91 658.55 L481.46 660.49 L487.02 662.37 L492.58 664.17 L498.13 665.92 L503.69 667.60 L509.25 669.22 L514.81 670.79 L520.36 672.30 L525.92 673.76 L531.48 675.16 L537.03 676.52 L542.59 677.83 L548.15 679.09 L553.70 680.31 L559.26 681.49 L564.82 682.62 L570.38 683.72 L575.93 684.77 L581.49 685.79 L587.05 686.77 L592.60 687.72 L598.16 688.64 L603.72 689.52 L609.27 690.37 L614.83 691.19 L620.39 691.98 L625.95 692.75 L631.50 693.48 L637.06 694.19 L642.62 694.88 L648.17 695.54 L653.73 696.18 L659.29 696.80 L664.84 697.39 L670.40 697.96 L675.96 698.52 L681.51 699.05 L687.07 699.56 L692.63 700.06 L698.19 700.54 L703.74 701.00 L709.30 701.44 L714.86 701.87 L720.41 702.29 L725.97 702.69 L731.53 703.07 L737.09 703.45 L742.64 703.80 L748.20 704.15 L753.76 704.48 L759.31 704.81 L764.87 705.12 L770.43 705.42 L775.98 705.71 L781.54 705.98 L787.10 706.25 L792.65 706.51 L798.21 706.76 L803.77 707.00 L809.33 707.24 L814.88 707.46 L820.44 707.68 L826.00 707.89 L831.55 708.09 L837.11 708.28 L842.67 708.47 L848.23 708.65 L853.78 708.83 L859.34 709.00 L864.90 709.16 L870.45 709.32 L876.01 709.47 L881.57 709.61 L887.12 709.76 L892.68 709.89 L898.24 710.02 L903.80 710.15 L909.35 710.27 L914.91 710.39 L920.47 710.50 L926.02 710.61 L931.58 710.72 L937.14 710.82 L942.69 710.92 L948.25 711.02 L953.81 711.11 L959.37 711.20 L964.92 711.28 L970.48 711.37 L976.04 711.45 L981.59 711.52 L987.15 711.60 L992.71 711.67 L998.26 711.74 L1003.82 711.81 L1009.38 711.87 L1014.94 711.94 L1020.49 712.00 L1026.05 712.06 L1031.61 712.11 L1037.16 712.17 L1042.72 712.22 L1048.28 712.28 L1053.83 712.33 L1059.39 712.37 L1064.95 712.42 L1070.50 712.47 L1076.06 712.51 L1081.62 712.55 L1087.18 712.60 L1092.73 712.64 L1098.29 712.68 L1103.85 712.71 L1109.40 712.75 L1114.96 712.79 L1120.52 712.82 L1126.08 712.86 L1131.63 712.89 L1137.19 712.92 L1142.75 712.95 L1148.30 712.98 L1153.86 713.01 L1159.42 713.04 L1164.97 713.07 L1170.53 713.10 L1176.09 713.13 L1181.64 713.16 L1187.20 713.18 L1192.76 713.21 L1198.32 713.23 L1203.87 713.26 L1209.43 713.29 L1214.99 713.31 L1220.54 713.33 L1226.10 713.36 L1231.66 713.38 L1237.21 713.41 L1242.77 713.43 L1248.33 713.45 L1253.89 713.48 L1259.44 713.50 L1265.00 713.52" stroke="#06060c" stroke-width="7.20" stroke-dasharray="17 22.6"/>
<path d="M153.60 307.23 L159.16 323.36 L164.71 338.85 L170.27 353.73 L175.83 368.03 L181.38 381.75 L186.94 394.94 L192.50 407.60 L198.06 419.77 L203.61 431.45 L209.17 442.67 L214.73 453.45 L220.28 463.80 L225.84 473.74 L231.40 483.28 L236.95 492.45 L242.51 501.26 L248.07 509.71 L253.63 517.84 L259.18 525.64 L264.74 533.13 L270.30 540.32 L275.85 547.23 L281.41 553.86 L286.97 560.23 L292.52 566.35 L298.08 572.22 L303.64 577.86 L309.20 583.28 L314.75 588.48 L320.31 593.47 L325.87 598.27 L331.42 602.88 L336.98 607.30 L342.54 611.54 L348.10 615.62 L353.65 619.54 L359.21 623.30 L364.77 626.90 L370.32 630.37 L375.88 633.70 L381.44 636.89 L386.99 639.96 L392.55 642.90 L398.11 645.73 L403.67 648.45 L409.22 651.05 L414.78 653.56 L420.34 655.96 L425.89 658.27 L431.45 660.48 L437.01 662.61 L442.56 664.65 L448.12 666.61 L453.68 668.49 L459.24 670.30 L464.79 672.03 L470.35 673.69 L475.91 675.29 L481.46 676.83 L487.02 678.30 L492.58 679.71 L498.13 681.07 L503.69 682.37 L509.25 683.62 L514.81 684.83 L520.36 685.98 L525.92 687.08 L531.48 688.15 L537.03 689.17 L542.59 690.15 L548.15 691.09 L553.70 691.99 L559.26 692.85 L564.82 693.68 L570.38 694.48 L575.93 695.25 L581.49 695.98 L587.05 696.69 L592.60 697.37 L598.16 698.02 L603.72 698.64 L609.27 699.24 L614.83 699.81 L620.39 700.37 L625.95 700.90 L631.50 701.40 L637.06 701.89 L642.62 702.36 L648.17 702.81 L653.73 703.24 L659.29 703.66 L664.84 704.05 L670.40 704.43 L675.96 704.80 L681.51 705.15 L687.07 705.49 L692.63 705.81 L698.19 706.12 L703.74 706.42 L709.30 706.71 L714.86 706.98 L720.41 707.25 L725.97 707.50 L731.53 707.74 L737.09 707.98 L742.64 708.20 L748.20 708.41 L753.76 708.62 L759.31 708.82 L764.87 709.01 L770.43 709.19 L775.98 709.37 L781.54 709.53 L787.10 709.70 L792.65 709.85 L798.21 710.00 L803.77 710.14 L809.33 710.28 L814.88 710.41 L820.44 710.53 L826.00 710.66 L831.55 710.77 L837.11 710.88 L842.67 710.99 L848.23 711.09 L853.78 711.19 L859.34 711.29 L864.90 711.38 L870.45 711.46 L876.01 711.55 L881.57 711.63 L887.12 711.70 L892.68 711.78 L898.24 711.85 L903.80 711.92 L909.35 711.98 L914.91 712.05 L920.47 712.11 L926.02 712.16 L931.58 712.22 L937.14 712.27 L942.69 712.32 L948.25 712.37 L953.81 712.42 L959.37 712.47 L964.92 712.51 L970.48 712.55 L976.04 712.59 L981.59 712.63 L987.15 712.67 L992.71 712.70 L998.26 712.74 L1003.82 712.77 L1009.38 712.80 L1014.94 712.83 L1020.49 712.86 L1026.05 712.89 L1031.61 712.92 L1037.16 712.94 L1042.72 712.97 L1048.28 712.99 L1053.83 713.02 L1059.39 713.04 L1064.95 713.06 L1070.50 713.08 L1076.06 713.10 L1081.62 713.12 L1087.18 713.14 L1092.73 713.16 L1098.29 713.17 L1103.85 713.19 L1109.40 713.21 L1114.96 713.22 L1120.52 713.24 L1126.08 713.25 L1131.63 713.27 L1137.19 713.28 L1142.75 713.29 L1148.30 713.31 L1153.86 713.32 L1159.42 713.33 L1164.97 713.34 L1170.53 713.36 L1176.09 713.37 L1181.64 713.38 L1187.20 713.39 L1192.76 713.40 L1198.32 713.41 L1203.87 713.42 L1209.43 713.43 L1214.99 713.44 L1220.54 713.45 L1226.10 713.46 L1231.66 713.47 L1237.21 713.48 L1242.77 713.49 L1248.33 713.50 L1253.89 713.51 L1259.44 713.52 L1265.00 713.52" stroke="#06060c" stroke-width="7.20" stroke-dasharray="17 22.6"/>
<path d="M153.60 331.69 L159.16 348.68 L164.71 364.91 L170.27 380.42 L175.83 395.25 L181.38 409.42 L186.94 422.96 L192.50 435.89 L198.06 448.26 L203.61 460.07 L209.17 471.37 L214.73 482.16 L220.28 492.47 L225.84 502.32 L231.40 511.73 L236.95 520.73 L242.51 529.33 L248.07 537.54 L253.63 545.39 L259.18 552.89 L264.74 560.06 L270.30 566.91 L275.85 573.45 L281.41 579.71 L286.97 585.68 L292.52 591.39 L298.08 596.84 L303.64 602.05 L309.20 607.03 L314.75 611.79 L320.31 616.34 L325.87 620.68 L331.42 624.83 L336.98 628.79 L342.54 632.58 L348.10 636.20 L353.65 639.66 L359.21 642.96 L364.77 646.12 L370.32 649.13 L375.88 652.01 L381.44 654.77 L386.99 657.39 L392.55 659.91 L398.11 662.31 L403.67 664.60 L409.22 666.79 L414.78 668.88 L420.34 670.88 L425.89 672.79 L431.45 674.62 L437.01 676.36 L442.56 678.02 L448.12 679.61 L453.68 681.13 L459.24 682.58 L464.79 683.97 L470.35 685.30 L475.91 686.56 L481.46 687.77 L487.02 688.92 L492.58 690.03 L498.13 691.08 L503.69 692.09 L509.25 693.05 L514.81 693.97 L520.36 694.85 L525.92 695.68 L531.48 696.48 L537.03 697.25 L542.59 697.98 L548.15 698.68 L553.70 699.34 L559.26 699.98 L564.82 700.59 L570.38 701.17 L575.93 701.72 L581.49 702.25 L587.05 702.76 L592.60 703.24 L598.16 703.70 L603.72 704.15 L609.27 704.57 L614.83 704.97 L620.39 705.35 L625.95 705.72 L631.50 706.07 L637.06 706.41 L642.62 706.73 L648.17 707.03 L653.73 707.32 L659.29 707.60 L664.84 707.87 L670.40 708.12 L675.96 708.36 L681.51 708.60 L687.07 708.82 L692.63 709.03 L698.19 709.23 L703.74 709.42 L709.30 709.61 L714.86 709.79 L720.41 709.95 L725.97 710.11 L731.53 710.27 L737.09 710.41 L742.64 710.55 L748.20 710.69 L753.76 710.82 L759.31 710.94 L764.87 711.05 L770.43 711.16 L775.98 711.27 L781.54 711.37 L787.10 711.47 L792.65 711.56 L798.21 711.65 L803.77 711.73 L809.33 711.82 L814.88 711.89 L820.44 711.97 L826.00 712.04 L831.55 712.10 L837.11 712.17 L842.67 712.23 L848.23 712.29 L853.78 712.34 L859.34 712.40 L864.90 712.45 L870.45 712.50 L876.01 712.54 L881.57 712.59 L887.12 712.63 L892.68 712.67 L898.24 712.71 L903.80 712.74 L909.35 712.78 L914.91 712.81 L920.47 712.85 L926.02 712.88 L931.58 712.91 L937.14 712.93 L942.69 712.96 L948.25 712.99 L953.81 713.01 L959.37 713.03 L964.92 713.06 L970.48 713.08 L976.04 713.10 L981.59 713.12 L987.15 713.14 L992.71 713.15 L998.26 713.17 L1003.82 713.19 L1009.38 713.20 L1014.94 713.22 L1020.49 713.23 L1026.05 713.25 L1031.61 713.26 L1037.16 713.27 L1042.72 713.28 L1048.28 713.29 L1053.83 713.31 L1059.39 713.32 L1064.95 713.33 L1070.50 713.34 L1076.06 713.35 L1081.62 713.35 L1087.18 713.36 L1092.73 713.37 L1098.29 713.38 L1103.85 713.39 L1109.40 713.39 L1114.96 713.40 L1120.52 713.41 L1126.08 713.41 L1131.63 713.42 L1137.19 713.43 L1142.75 713.43 L1148.30 713.44 L1153.86 713.44 L1159.42 713.45 L1164.97 713.45 L1170.53 713.46 L1176.09 713.46 L1181.64 713.47 L1187.20 713.47 L1192.76 713.47 L1198.32 713.48 L1203.87 713.48 L1209.43 713.49 L1214.99 713.49 L1220.54 713.50 L1226.10 713.50 L1231.66 713.50 L1237.21 713.51 L1242.77 713.51 L1248.33 713.51 L1253.89 713.52 L1259.44 713.52 L1265.00 713.52" stroke="#06060c" stroke-width="7.20" stroke-dasharray="17 22.6"/>
</g>
<line x1="536.7" y1="517.1" x2="354.5" y2="791.3" stroke="#06060c" stroke-width="2.6"/>
<polygon points="328.1,830.6 346.9,782.3 354.5,791.3 366.3,797.6" fill="#000"/>
<g stroke="#000" stroke-linecap="square">
<line x1="131.00" y1="76.87" x2="1284.85" y2="76.87" stroke-width="3.80"/>
<line x1="131.00" y1="911.85" x2="1284.85" y2="911.85" stroke-width="3.80"/>
<line x1="131.00" y1="76.87" x2="131.00" y2="911.85" stroke-width="2.50"/>
<line x1="1284.85" y1="76.87" x2="1284.85" y2="911.85" stroke-width="2.50"/>
</g>
<text transform="translate(121.00 887.94) scale(1.0000 1.1705)" font-size="44.00" text-anchor="end" stroke="#fff" stroke-width="0.45"  >0.0</text>
<text transform="translate(121.00 778.64) scale(1.0000 1.1705)" font-size="44.00" text-anchor="end" stroke="#fff" stroke-width="0.45"  >0.1</text>
<text transform="translate(121.00 669.34) scale(1.0000 1.1705)" font-size="44.00" text-anchor="end" stroke="#fff" stroke-width="0.45"  >0.2</text>
<text transform="translate(121.00 560.04) scale(1.0000 1.1705)" font-size="44.00" text-anchor="end" stroke="#fff" stroke-width="0.45"  >0.3</text>
<text transform="translate(121.00 450.74) scale(1.0000 1.1705)" font-size="44.00" text-anchor="end" stroke="#fff" stroke-width="0.45"  >0.4</text>
<text transform="translate(121.00 341.44) scale(1.0000 1.1705)" font-size="44.00" text-anchor="end" stroke="#fff" stroke-width="0.45"  >0.5</text>
<text transform="translate(121.00 232.14) scale(1.0000 1.1705)" font-size="44.00" text-anchor="end" stroke="#fff" stroke-width="0.45"  >0.6</text>
<text transform="translate(121.00 122.84) scale(1.0000 1.1705)" font-size="44.00" text-anchor="end" stroke="#fff" stroke-width="0.45"  >0.7</text>
<text transform="translate(153.00 970.30) scale(1.0000 1.1705)" font-size="44.00" text-anchor="middle" stroke="#fff" stroke-width="0.45"  >0.0</text>
<text transform="translate(430.00 970.30) scale(1.0000 1.1705)" font-size="44.00" text-anchor="middle" stroke="#fff" stroke-width="0.45"  >0.5</text>
<text transform="translate(707.00 970.30) scale(1.0000 1.1705)" font-size="44.00" text-anchor="middle" stroke="#fff" stroke-width="0.45"  >1.0</text>
<text transform="translate(984.00 970.30) scale(1.0000 1.1705)" font-size="44.00" text-anchor="middle" stroke="#fff" stroke-width="0.45"  >1.5</text>
<text transform="translate(1261.00 970.30) scale(1.0000 1.1705)" font-size="44.00" text-anchor="middle" stroke="#fff" stroke-width="0.45"  >2.0</text>
<text transform="translate(708.80 1042.20) scale(1.0000 1.1705)" font-size="44.00" text-anchor="middle" stroke="#fff" stroke-width="0.45" font-style="italic" >η</text>
<text transform="translate(40.00 494.20) rotate(-90) scale(1.1319 1)" font-size="45.50" text-anchor="middle" stroke="#fff" stroke-width="0.45"  >F'(<tspan font-style='italic'>η</tspan>)</text>
<text transform="translate(587.50 41.70) scale(1.0200 1.1705)" font-size="44.00" text-anchor="start" stroke="#fff" stroke-width="0.45"  ><tspan font-style="italic">S</tspan><tspan font-style="italic" font-size="26.40" dy="7.30" dx="-1.5">t</tspan><tspan dy="-7.30" dx="3">=0.3,</tspan><tspan font-style="italic">γ</tspan><tspan font-size="26.40" dy="7.30" dx="1">1</tspan><tspan dy="-7.30" dx="1.5">0.3</tspan></text>
<text transform="translate(626.40 387.80) scale(1.0000 1.1747)" font-size="34.05" text-anchor="start" stroke="#fff" stroke-width="0.45"  ><tspan font-style="italic">M</tspan>=2.0,2.5,3.0,3.5,4.0,4.5</text>
<rect x="545.90" y="112.80" width="717.20" height="189.00" rx="6.5" ry="6.5" fill="#000"/>
<rect x="555.80" y="124.40" width="697.40" height="165.80" rx="0.5" ry="0.5" fill="#fff"/>
<line x1="572.10" y1="166.00" x2="630.10" y2="166.00" stroke="#ffff00" stroke-width="5.00"/>
<line x1="572.90" y1="248.40" x2="592.90" y2="248.40" stroke="#06060c" stroke-width="5.50"/>
<line x1="617.20" y1="248.40" x2="630.00" y2="248.40" stroke="#06060c" stroke-width="5.50"/>
<text transform="translate(649.00 177.80) scale(1.0100 1.1277)" font-size="41.50" text-anchor="start" stroke="#fff" stroke-width="0.45"  >(Al<tspan font-size="29.46" dy="8.30">2</tspan><tspan dy="-8.30">O</tspan><tspan font-size="29.46" dy="8.30">3</tspan><tspan dy="-8.30">−Fe</tspan><tspan font-size="29.46" dy="8.30">3</tspan><tspan dy="-8.30">O</tspan><tspan font-size="29.46" dy="8.30">4</tspan><tspan dy="-8.30">)/blood,</tspan><tspan font-style="italic">ϕ</tspan><tspan font-size="29.46" dy="8.30">1</tspan><tspan dy="-8.30">=</tspan><tspan font-style="italic">ϕ</tspan><tspan font-size="29.46" dy="8.30">2</tspan><tspan dy="-8.30">=0.1</tspan></text>
<text transform="translate(651.40 259.60) scale(0.9920 1.1277)" font-size="41.50" text-anchor="start" stroke="#fff" stroke-width="0.45"  >Al<tspan font-size="29.46" dy="8.30">2</tspan><tspan dy="-8.30">O</tspan><tspan font-size="29.46" dy="8.30">3</tspan><tspan dy="-8.30">−/blood,</tspan><tspan font-style="italic">ϕ</tspan><tspan font-size="29.46" dy="8.30">1</tspan><tspan dy="-8.30">=0.1</tspan></text>
<text transform="translate(1.20 32.50) scale(1.000 1)" font-size="44.3" font-weight="bold">A</text>
<g transform="scale(1 1.2700)" fill="none" stroke-linecap="butt" stroke-linejoin="round">
<path d="M174.40 1061.38 L179.83 1072.49 L185.25 1083.38 L190.68 1094.04 L196.10 1104.48 L201.53 1114.71 L206.95 1124.73 L212.38 1134.55 L217.80 1144.16 L223.22 1153.58 L228.65 1162.81 L234.07 1171.84 L239.50 1180.69 L244.93 1189.36 L250.35 1197.85 L255.78 1206.17 L261.20 1214.31 L266.62 1222.29 L272.05 1230.10 L277.48 1237.76 L282.90 1245.25 L288.32 1252.59 L293.75 1259.78 L299.18 1266.83 L304.60 1273.72 L310.02 1280.48 L315.45 1287.09 L320.88 1293.57 L326.30 1299.92 L331.73 1306.13 L337.15 1312.22 L342.58 1318.17 L348.00 1324.01 L353.43 1329.73 L358.85 1335.32 L364.27 1340.80 L369.70 1346.17 L375.12 1351.43 L380.55 1356.58 L385.98 1361.62 L391.40 1366.55 L396.82 1371.39 L402.25 1376.12 L407.68 1380.76 L413.10 1385.30 L418.52 1389.74 L423.95 1394.09 L429.38 1398.35 L434.80 1402.53 L440.23 1406.61 L445.65 1410.62 L451.08 1414.53 L456.50 1418.37 L461.93 1422.13 L467.35 1425.81 L472.77 1429.41 L478.20 1432.94 L483.62 1436.39 L489.05 1439.77 L494.48 1443.08 L499.90 1446.33 L505.33 1449.50 L510.75 1452.61 L516.17 1455.65 L521.60 1458.63 L527.02 1461.55 L532.45 1464.41 L537.88 1467.21 L543.30 1469.95 L548.73 1472.63 L554.15 1475.25 L559.57 1477.83 L565.00 1480.34 L570.42 1482.81 L575.85 1485.22 L581.27 1487.59 L586.70 1489.90 L592.12 1492.17 L597.55 1494.39 L602.98 1496.56 L608.40 1498.69 L613.83 1500.77 L619.25 1502.81 L624.67 1504.81 L630.10 1506.76 L635.52 1508.68 L640.95 1510.55 L646.38 1512.39 L651.80 1514.18 L657.23 1515.95 L662.65 1517.67 L668.08 1519.36 L673.50 1521.01 L678.93 1522.63 L684.35 1524.21 L689.77 1525.77 L695.20 1527.29 L700.62 1528.78 L706.05 1530.23 L711.48 1531.66 L716.90 1533.06 L722.32 1534.43 L727.75 1535.77 L733.17 1537.09 L738.60 1538.37 L744.02 1539.63 L749.45 1540.87 L754.88 1542.08 L760.30 1543.26 L765.73 1544.42 L771.15 1545.56 L776.58 1546.67 L782.00 1547.76 L787.42 1548.83 L792.85 1549.88 L798.27 1550.90 L803.70 1551.91 L809.12 1552.89 L814.55 1553.86 L819.97 1554.80 L825.40 1555.73 L830.82 1556.64 L836.25 1557.53 L841.67 1558.40 L847.10 1559.26 L852.52 1560.10 L857.95 1560.92 L863.38 1561.72 L868.80 1562.51 L874.23 1563.29 L879.65 1564.05 L885.08 1564.79 L890.50 1565.52 L895.93 1566.24 L901.35 1566.94 L906.77 1567.63 L912.20 1568.31 L917.62 1568.97 L923.05 1569.62 L928.47 1570.26 L933.90 1570.89 L939.32 1571.51 L944.75 1572.11 L950.17 1572.70 L955.60 1573.29 L961.02 1573.86 L966.45 1574.42 L971.88 1574.97 L977.30 1575.52 L982.73 1576.05 L988.15 1576.58 L993.57 1577.09 L999.00 1577.60 L1004.42 1578.10 L1009.85 1578.59 L1015.27 1579.07 L1020.70 1579.54 L1026.12 1580.01 L1031.55 1580.47 L1036.98 1580.92 L1042.40 1581.37 L1047.83 1581.81 L1053.25 1582.24 L1058.67 1582.67 L1064.10 1583.09 L1069.53 1583.50 L1074.95 1583.91 L1080.38 1584.31 L1085.80 1584.71 L1091.22 1585.10 L1096.65 1585.49 L1102.08 1585.87 L1107.50 1586.25 L1112.92 1586.63 L1118.35 1587.00 L1123.78 1587.36 L1129.20 1587.73 L1134.62 1588.08 L1140.05 1588.44 L1145.48 1588.79 L1150.90 1589.14 L1156.33 1589.48 L1161.75 1589.83 L1167.18 1590.17 L1172.60 1590.50 L1178.03 1590.84 L1183.45 1591.17 L1188.88 1591.50 L1194.30 1591.83 L1199.73 1592.15 L1205.15 1592.48 L1210.58 1592.80 L1216.00 1593.12 L1221.42 1593.44 L1226.85 1593.76 L1232.28 1594.08 L1237.70 1594.40 L1243.12 1594.72 L1248.55 1595.04 L1253.98 1595.35 L1259.40 1595.67" stroke="#06060c" stroke-width="7.20" stroke-dasharray="17 22.6"/>
<path d="M174.40 988.34 L179.83 996.80 L185.25 1005.16 L190.68 1013.43 L196.10 1021.59 L201.53 1029.66 L206.95 1037.64 L212.38 1045.52 L217.80 1053.31 L223.22 1061.00 L228.65 1068.60 L234.07 1076.12 L239.50 1083.54 L244.93 1090.87 L250.35 1098.11 L255.78 1105.26 L261.20 1112.33 L266.62 1119.31 L272.05 1126.20 L277.48 1133.01 L282.90 1139.73 L288.32 1146.37 L293.75 1152.92 L299.18 1159.40 L304.60 1165.79 L310.02 1172.10 L315.45 1178.33 L320.88 1184.48 L326.30 1190.55 L331.73 1196.55 L337.15 1202.47 L342.58 1208.31 L348.00 1214.08 L353.43 1219.77 L358.85 1225.39 L364.27 1230.93 L369.70 1236.40 L375.12 1241.80 L380.55 1247.13 L385.98 1252.39 L391.40 1257.58 L396.82 1262.70 L402.25 1267.76 L407.68 1272.74 L413.10 1277.66 L418.52 1282.51 L423.95 1287.30 L429.38 1292.02 L434.80 1296.68 L440.23 1301.28 L445.65 1305.82 L451.08 1310.29 L456.50 1314.70 L461.93 1319.05 L467.35 1323.35 L472.77 1327.58 L478.20 1331.76 L483.62 1335.88 L489.05 1339.94 L494.48 1343.95 L499.90 1347.90 L505.33 1351.79 L510.75 1355.63 L516.17 1359.42 L521.60 1363.16 L527.02 1366.84 L532.45 1370.48 L537.88 1374.06 L543.30 1377.59 L548.73 1381.07 L554.15 1384.51 L559.57 1387.89 L565.00 1391.23 L570.42 1394.52 L575.85 1397.77 L581.27 1400.96 L586.70 1404.12 L592.12 1407.23 L597.55 1410.29 L602.98 1413.31 L608.40 1416.29 L613.83 1419.23 L619.25 1422.13 L624.67 1424.98 L630.10 1427.79 L635.52 1430.57 L640.95 1433.30 L646.38 1436.00 L651.80 1438.66 L657.23 1441.27 L662.65 1443.86 L668.08 1446.40 L673.50 1448.91 L678.93 1451.39 L684.35 1453.82 L689.77 1456.23 L695.20 1458.60 L700.62 1460.94 L706.05 1463.24 L711.48 1465.51 L716.90 1467.75 L722.32 1469.95 L727.75 1472.13 L733.17 1474.28 L738.60 1476.39 L744.02 1478.48 L749.45 1480.53 L754.88 1482.56 L760.30 1484.56 L765.73 1486.53 L771.15 1488.47 L776.58 1490.39 L782.00 1492.28 L787.42 1494.14 L792.85 1495.98 L798.27 1497.79 L803.70 1499.57 L809.12 1501.34 L814.55 1503.08 L819.97 1504.79 L825.40 1506.48 L830.82 1508.15 L836.25 1509.80 L841.67 1511.42 L847.10 1513.02 L852.52 1514.60 L857.95 1516.16 L863.38 1517.70 L868.80 1519.22 L874.23 1520.72 L879.65 1522.20 L885.08 1523.66 L890.50 1525.10 L895.93 1526.52 L901.35 1527.93 L906.77 1529.31 L912.20 1530.68 L917.62 1532.03 L923.05 1533.37 L928.47 1534.69 L933.90 1535.99 L939.32 1537.28 L944.75 1538.55 L950.17 1539.81 L955.60 1541.05 L961.02 1542.28 L966.45 1543.49 L971.88 1544.69 L977.30 1545.88 L982.73 1547.05 L988.15 1548.21 L993.57 1549.36 L999.00 1550.49 L1004.42 1551.61 L1009.85 1552.72 L1015.27 1553.82 L1020.70 1554.91 L1026.12 1555.99 L1031.55 1557.05 L1036.98 1558.11 L1042.40 1559.16 L1047.83 1560.19 L1053.25 1561.22 L1058.67 1562.24 L1064.10 1563.24 L1069.53 1564.24 L1074.95 1565.23 L1080.38 1566.22 L1085.80 1567.19 L1091.22 1568.16 L1096.65 1569.12 L1102.08 1570.07 L1107.50 1571.02 L1112.92 1571.96 L1118.35 1572.89 L1123.78 1573.81 L1129.20 1574.73 L1134.62 1575.65 L1140.05 1576.56 L1145.48 1577.46 L1150.90 1578.36 L1156.33 1579.26 L1161.75 1580.15 L1167.18 1581.03 L1172.60 1581.91 L1178.03 1582.79 L1183.45 1583.66 L1188.88 1584.54 L1194.30 1585.40 L1199.73 1586.27 L1205.15 1587.13 L1210.58 1587.99 L1216.00 1588.85 L1221.42 1589.71 L1226.85 1590.56 L1232.28 1591.42 L1237.70 1592.27 L1243.12 1593.12 L1248.55 1593.97 L1253.98 1594.82 L1259.40 1595.67" stroke="#ffff00" stroke-width="6.80"/>
<path d="M174.40 1023.71 L179.83 1033.58 L185.25 1043.27 L190.68 1052.81 L196.10 1062.20 L201.53 1071.43 L206.95 1080.50 L212.38 1089.43 L217.80 1098.21 L223.22 1106.84 L228.65 1115.33 L234.07 1123.68 L239.50 1131.90 L244.93 1139.97 L250.35 1147.91 L255.78 1155.72 L261.20 1163.40 L266.62 1170.95 L272.05 1178.38 L277.48 1185.68 L282.90 1192.86 L288.32 1199.92 L293.75 1206.86 L299.18 1213.68 L304.60 1220.39 L310.02 1226.99 L315.45 1233.47 L320.88 1239.85 L326.30 1246.12 L331.73 1252.28 L337.15 1258.34 L342.58 1264.30 L348.00 1270.15 L353.43 1275.91 L358.85 1281.57 L364.27 1287.13 L369.70 1292.60 L375.12 1297.98 L380.55 1303.26 L385.98 1308.46 L391.40 1313.57 L396.82 1318.59 L402.25 1323.52 L407.68 1328.37 L413.10 1333.14 L418.52 1337.83 L423.95 1342.43 L429.38 1346.96 L434.80 1351.41 L440.23 1355.78 L445.65 1360.08 L451.08 1364.31 L456.50 1368.46 L461.93 1372.54 L467.35 1376.55 L472.77 1380.50 L478.20 1384.37 L483.62 1388.18 L489.05 1391.92 L494.48 1395.60 L499.90 1399.22 L505.33 1402.77 L510.75 1406.26 L516.17 1409.69 L521.60 1413.06 L527.02 1416.38 L532.45 1419.64 L537.88 1422.84 L543.30 1425.98 L548.73 1429.08 L554.15 1432.11 L559.57 1435.10 L565.00 1438.04 L570.42 1440.92 L575.85 1443.75 L581.27 1446.54 L586.70 1449.28 L592.12 1451.97 L597.55 1454.61 L602.98 1457.21 L608.40 1459.76 L613.83 1462.27 L619.25 1464.74 L624.67 1467.16 L630.10 1469.54 L635.52 1471.88 L640.95 1474.19 L646.38 1476.45 L651.80 1478.67 L657.23 1480.85 L662.65 1483.00 L668.08 1485.11 L673.50 1487.18 L678.93 1489.22 L684.35 1491.22 L689.77 1493.19 L695.20 1495.13 L700.62 1497.03 L706.05 1498.90 L711.48 1500.74 L716.90 1502.55 L722.32 1504.32 L727.75 1506.07 L733.17 1507.78 L738.60 1509.47 L744.02 1511.13 L749.45 1512.76 L754.88 1514.36 L760.30 1515.94 L765.73 1517.49 L771.15 1519.02 L776.58 1520.51 L782.00 1521.99 L787.42 1523.44 L792.85 1524.86 L798.27 1526.26 L803.70 1527.64 L809.12 1529.00 L814.55 1530.33 L819.97 1531.64 L825.40 1532.94 L830.82 1534.21 L836.25 1535.45 L841.67 1536.68 L847.10 1537.89 L852.52 1539.08 L857.95 1540.25 L863.38 1541.41 L868.80 1542.54 L874.23 1543.66 L879.65 1544.75 L885.08 1545.84 L890.50 1546.90 L895.93 1547.95 L901.35 1548.98 L906.77 1550.00 L912.20 1551.00 L917.62 1551.99 L923.05 1552.96 L928.47 1553.92 L933.90 1554.86 L939.32 1555.79 L944.75 1556.71 L950.17 1557.61 L955.60 1558.50 L961.02 1559.38 L966.45 1560.24 L971.88 1561.10 L977.30 1561.94 L982.73 1562.77 L988.15 1563.59 L993.57 1564.40 L999.00 1565.19 L1004.42 1565.98 L1009.85 1566.76 L1015.27 1567.52 L1020.70 1568.28 L1026.12 1569.03 L1031.55 1569.77 L1036.98 1570.50 L1042.40 1571.22 L1047.83 1571.94 L1053.25 1572.64 L1058.67 1573.34 L1064.10 1574.03 L1069.53 1574.72 L1074.95 1575.39 L1080.38 1576.06 L1085.80 1576.72 L1091.22 1577.38 L1096.65 1578.03 L1102.08 1578.67 L1107.50 1579.31 L1112.92 1579.94 L1118.35 1580.57 L1123.78 1581.19 L1129.20 1581.81 L1134.62 1582.42 L1140.05 1583.03 L1145.48 1583.63 L1150.90 1584.23 L1156.33 1584.83 L1161.75 1585.42 L1167.18 1586.01 L1172.60 1586.60 L1178.03 1587.18 L1183.45 1587.76 L1188.88 1588.33 L1194.30 1588.91 L1199.73 1589.48 L1205.15 1590.05 L1210.58 1590.62 L1216.00 1591.18 L1221.42 1591.75 L1226.85 1592.31 L1232.28 1592.87 L1237.70 1593.43 L1243.12 1593.99 L1248.55 1594.55 L1253.98 1595.11 L1259.40 1595.67" stroke="#ffff00" stroke-width="6.80"/>
<path d="M174.40 1056.50 L179.83 1067.42 L185.25 1078.12 L190.68 1088.62 L196.10 1098.90 L201.53 1108.99 L206.95 1118.87 L212.38 1128.55 L217.80 1138.05 L223.22 1147.35 L228.65 1156.47 L234.07 1165.40 L239.50 1174.16 L244.93 1182.75 L250.35 1191.16 L255.78 1199.41 L261.20 1207.49 L266.62 1215.40 L272.05 1223.17 L277.48 1230.77 L282.90 1238.22 L288.32 1245.53 L293.75 1252.69 L299.18 1259.70 L304.60 1266.57 L310.02 1273.31 L315.45 1279.91 L320.88 1286.38 L326.30 1292.72 L331.73 1298.93 L337.15 1305.01 L342.58 1310.98 L348.00 1316.82 L353.43 1322.55 L358.85 1328.16 L364.27 1333.65 L369.70 1339.04 L375.12 1344.32 L380.55 1349.49 L385.98 1354.56 L391.40 1359.52 L396.82 1364.39 L402.25 1369.15 L407.68 1373.82 L413.10 1378.40 L418.52 1382.88 L423.95 1387.28 L429.38 1391.58 L434.80 1395.80 L440.23 1399.93 L445.65 1403.97 L451.08 1407.94 L456.50 1411.82 L461.93 1415.63 L467.35 1419.36 L472.77 1423.01 L478.20 1426.59 L483.62 1430.10 L489.05 1433.53 L494.48 1436.90 L499.90 1440.20 L505.33 1443.43 L510.75 1446.59 L516.17 1449.69 L521.60 1452.73 L527.02 1455.71 L532.45 1458.62 L537.88 1461.48 L543.30 1464.28 L548.73 1467.02 L554.15 1469.70 L559.57 1472.34 L565.00 1474.91 L570.42 1477.44 L575.85 1479.91 L581.27 1482.34 L586.70 1484.71 L592.12 1487.04 L597.55 1489.32 L602.98 1491.55 L608.40 1493.73 L613.83 1495.88 L619.25 1497.98 L624.67 1500.03 L630.10 1502.05 L635.52 1504.02 L640.95 1505.96 L646.38 1507.85 L651.80 1509.71 L657.23 1511.53 L662.65 1513.31 L668.08 1515.06 L673.50 1516.77 L678.93 1518.44 L684.35 1520.08 L689.77 1521.69 L695.20 1523.27 L700.62 1524.81 L706.05 1526.33 L711.48 1527.81 L716.90 1529.27 L722.32 1530.69 L727.75 1532.08 L733.17 1533.45 L738.60 1534.79 L744.02 1536.11 L749.45 1537.39 L754.88 1538.66 L760.30 1539.89 L765.73 1541.10 L771.15 1542.29 L776.58 1543.46 L782.00 1544.60 L787.42 1545.72 L792.85 1546.81 L798.27 1547.89 L803.70 1548.94 L809.12 1549.97 L814.55 1550.99 L819.97 1551.98 L825.40 1552.95 L830.82 1553.91 L836.25 1554.85 L841.67 1555.76 L847.10 1556.66 L852.52 1557.55 L857.95 1558.41 L863.38 1559.26 L868.80 1560.10 L874.23 1560.92 L879.65 1561.72 L885.08 1562.51 L890.50 1563.28 L895.93 1564.04 L901.35 1564.78 L906.77 1565.51 L912.20 1566.23 L917.62 1566.93 L923.05 1567.63 L928.47 1568.30 L933.90 1568.97 L939.32 1569.63 L944.75 1570.27 L950.17 1570.90 L955.60 1571.52 L961.02 1572.13 L966.45 1572.73 L971.88 1573.32 L977.30 1573.90 L982.73 1574.47 L988.15 1575.03 L993.57 1575.58 L999.00 1576.13 L1004.42 1576.66 L1009.85 1577.19 L1015.27 1577.70 L1020.70 1578.21 L1026.12 1578.71 L1031.55 1579.21 L1036.98 1579.69 L1042.40 1580.17 L1047.83 1580.64 L1053.25 1581.11 L1058.67 1581.57 L1064.10 1582.02 L1069.53 1582.47 L1074.95 1582.91 L1080.38 1583.34 L1085.80 1583.77 L1091.22 1584.20 L1096.65 1584.62 L1102.08 1585.03 L1107.50 1585.44 L1112.92 1585.84 L1118.35 1586.24 L1123.78 1586.64 L1129.20 1587.03 L1134.62 1587.42 L1140.05 1587.81 L1145.48 1588.19 L1150.90 1588.56 L1156.33 1588.94 L1161.75 1589.31 L1167.18 1589.68 L1172.60 1590.05 L1178.03 1590.41 L1183.45 1590.77 L1188.88 1591.13 L1194.30 1591.49 L1199.73 1591.84 L1205.15 1592.19 L1210.58 1592.55 L1216.00 1592.90 L1221.42 1593.25 L1226.85 1593.59 L1232.28 1593.94 L1237.70 1594.29 L1243.12 1594.63 L1248.55 1594.98 L1253.98 1595.32 L1259.40 1595.67" stroke="#ffff00" stroke-width="6.80"/>
<path d="M174.40 1085.83 L179.83 1097.75 L185.25 1109.39 L190.68 1120.76 L196.10 1131.87 L201.53 1142.73 L206.95 1153.33 L212.38 1163.68 L217.80 1173.79 L223.22 1183.67 L228.65 1193.32 L234.07 1202.75 L239.50 1211.96 L244.93 1220.95 L250.35 1229.73 L255.78 1238.31 L261.20 1246.69 L266.62 1254.88 L272.05 1262.87 L277.48 1270.68 L282.90 1278.31 L288.32 1285.76 L293.75 1293.04 L299.18 1300.14 L304.60 1307.09 L310.02 1313.86 L315.45 1320.49 L320.88 1326.95 L326.30 1333.27 L331.73 1339.44 L337.15 1345.46 L342.58 1351.35 L348.00 1357.10 L353.43 1362.71 L358.85 1368.19 L364.27 1373.55 L369.70 1378.77 L375.12 1383.88 L380.55 1388.87 L385.98 1393.74 L391.40 1398.50 L396.82 1403.14 L402.25 1407.68 L407.68 1412.11 L413.10 1416.44 L418.52 1420.67 L423.95 1424.79 L429.38 1428.83 L434.80 1432.76 L440.23 1436.61 L445.65 1440.36 L451.08 1444.03 L456.50 1447.61 L461.93 1451.11 L467.35 1454.52 L472.77 1457.86 L478.20 1461.11 L483.62 1464.30 L489.05 1467.40 L494.48 1470.44 L499.90 1473.40 L505.33 1476.29 L510.75 1479.12 L516.17 1481.88 L521.60 1484.57 L527.02 1487.20 L532.45 1489.77 L537.88 1492.28 L543.30 1494.73 L548.73 1497.12 L554.15 1499.46 L559.57 1501.74 L565.00 1503.97 L570.42 1506.15 L575.85 1508.28 L581.27 1510.35 L586.70 1512.38 L592.12 1514.36 L597.55 1516.29 L602.98 1518.18 L608.40 1520.02 L613.83 1521.82 L619.25 1523.58 L624.67 1525.30 L630.10 1526.98 L635.52 1528.61 L640.95 1530.21 L646.38 1531.78 L651.80 1533.30 L657.23 1534.79 L662.65 1536.25 L668.08 1537.67 L673.50 1539.06 L678.93 1540.41 L684.35 1541.74 L689.77 1543.03 L695.20 1544.29 L700.62 1545.53 L706.05 1546.73 L711.48 1547.91 L716.90 1549.06 L722.32 1550.18 L727.75 1551.28 L733.17 1552.35 L738.60 1553.39 L744.02 1554.41 L749.45 1555.41 L754.88 1556.39 L760.30 1557.34 L765.73 1558.27 L771.15 1559.18 L776.58 1560.07 L782.00 1560.94 L787.42 1561.79 L792.85 1562.61 L798.27 1563.42 L803.70 1564.21 L809.12 1564.99 L814.55 1565.74 L819.97 1566.48 L825.40 1567.20 L830.82 1567.91 L836.25 1568.60 L841.67 1569.27 L847.10 1569.93 L852.52 1570.57 L857.95 1571.20 L863.38 1571.82 L868.80 1572.42 L874.23 1573.00 L879.65 1573.58 L885.08 1574.14 L890.50 1574.69 L895.93 1575.23 L901.35 1575.75 L906.77 1576.27 L912.20 1576.77 L917.62 1577.26 L923.05 1577.75 L928.47 1578.22 L933.90 1578.68 L939.32 1579.13 L944.75 1579.57 L950.17 1580.00 L955.60 1580.43 L961.02 1580.84 L966.45 1581.25 L971.88 1581.65 L977.30 1582.04 L982.73 1582.42 L988.15 1582.79 L993.57 1583.16 L999.00 1583.52 L1004.42 1583.87 L1009.85 1584.22 L1015.27 1584.56 L1020.70 1584.89 L1026.12 1585.22 L1031.55 1585.54 L1036.98 1585.86 L1042.40 1586.17 L1047.83 1586.47 L1053.25 1586.77 L1058.67 1587.06 L1064.10 1587.35 L1069.53 1587.63 L1074.95 1587.91 L1080.38 1588.19 L1085.80 1588.46 L1091.22 1588.72 L1096.65 1588.99 L1102.08 1589.24 L1107.50 1589.50 L1112.92 1589.75 L1118.35 1590.00 L1123.78 1590.24 L1129.20 1590.48 L1134.62 1590.72 L1140.05 1590.95 L1145.48 1591.19 L1150.90 1591.42 L1156.33 1591.64 L1161.75 1591.87 L1167.18 1592.09 L1172.60 1592.31 L1178.03 1592.53 L1183.45 1592.75 L1188.88 1592.97 L1194.30 1593.18 L1199.73 1593.39 L1205.15 1593.60 L1210.58 1593.81 L1216.00 1594.02 L1221.42 1594.23 L1226.85 1594.44 L1232.28 1594.64 L1237.70 1594.85 L1243.12 1595.05 L1248.55 1595.26 L1253.98 1595.46 L1259.40 1595.67" stroke="#ffff00" stroke-width="6.80"/>
<path d="M174.40 1111.71 L179.83 1124.53 L185.25 1137.01 L190.68 1149.16 L196.10 1160.99 L201.53 1172.51 L206.95 1183.72 L212.38 1194.64 L217.80 1205.26 L223.22 1215.60 L228.65 1225.67 L234.07 1235.48 L239.50 1245.02 L244.93 1254.31 L250.35 1263.35 L255.78 1272.16 L261.20 1280.73 L266.62 1289.08 L272.05 1297.20 L277.48 1305.11 L282.90 1312.81 L288.32 1320.30 L293.75 1327.60 L299.18 1334.70 L304.60 1341.61 L310.02 1348.35 L315.45 1354.90 L320.88 1361.28 L326.30 1367.49 L331.73 1373.54 L337.15 1379.42 L342.58 1385.15 L348.00 1390.73 L353.43 1396.16 L358.85 1401.45 L364.27 1406.60 L369.70 1411.61 L375.12 1416.48 L380.55 1421.23 L385.98 1425.86 L391.40 1430.36 L396.82 1434.74 L402.25 1439.00 L407.68 1443.15 L413.10 1447.20 L418.52 1451.13 L423.95 1454.96 L429.38 1458.69 L434.80 1462.32 L440.23 1465.86 L445.65 1469.30 L451.08 1472.65 L456.50 1475.91 L461.93 1479.09 L467.35 1482.18 L472.77 1485.19 L478.20 1488.12 L483.62 1490.97 L489.05 1493.74 L494.48 1496.45 L499.90 1499.08 L505.33 1501.64 L510.75 1504.13 L516.17 1506.56 L521.60 1508.93 L527.02 1511.23 L532.45 1513.47 L537.88 1515.65 L543.30 1517.77 L548.73 1519.84 L554.15 1521.85 L559.57 1523.81 L565.00 1525.72 L570.42 1527.58 L575.85 1529.38 L581.27 1531.14 L586.70 1532.86 L592.12 1534.53 L597.55 1536.15 L602.98 1537.73 L608.40 1539.27 L613.83 1540.77 L619.25 1542.23 L624.67 1543.65 L630.10 1545.03 L635.52 1546.38 L640.95 1547.69 L646.38 1548.97 L651.80 1550.21 L657.23 1551.42 L662.65 1552.60 L668.08 1553.75 L673.50 1554.86 L678.93 1555.95 L684.35 1557.01 L689.77 1558.04 L695.20 1559.05 L700.62 1560.02 L706.05 1560.98 L711.48 1561.90 L716.90 1562.81 L722.32 1563.68 L727.75 1564.54 L733.17 1565.37 L738.60 1566.19 L744.02 1566.98 L749.45 1567.75 L754.88 1568.49 L760.30 1569.22 L765.73 1569.94 L771.15 1570.63 L776.58 1571.30 L782.00 1571.96 L787.42 1572.60 L792.85 1573.22 L798.27 1573.83 L803.70 1574.42 L809.12 1574.99 L814.55 1575.56 L819.97 1576.10 L825.40 1576.63 L830.82 1577.15 L836.25 1577.66 L841.67 1578.15 L847.10 1578.63 L852.52 1579.10 L857.95 1579.55 L863.38 1579.99 L868.80 1580.43 L874.23 1580.85 L879.65 1581.26 L885.08 1581.66 L890.50 1582.05 L895.93 1582.43 L901.35 1582.80 L906.77 1583.16 L912.20 1583.51 L917.62 1583.86 L923.05 1584.19 L928.47 1584.52 L933.90 1584.84 L939.32 1585.15 L944.75 1585.45 L950.17 1585.75 L955.60 1586.04 L961.02 1586.32 L966.45 1586.60 L971.88 1586.86 L977.30 1587.13 L982.73 1587.38 L988.15 1587.63 L993.57 1587.88 L999.00 1588.12 L1004.42 1588.35 L1009.85 1588.58 L1015.27 1588.80 L1020.70 1589.02 L1026.12 1589.23 L1031.55 1589.44 L1036.98 1589.65 L1042.40 1589.85 L1047.83 1590.04 L1053.25 1590.23 L1058.67 1590.42 L1064.10 1590.60 L1069.53 1590.78 L1074.95 1590.96 L1080.38 1591.13 L1085.80 1591.30 L1091.22 1591.47 L1096.65 1591.64 L1102.08 1591.80 L1107.50 1591.95 L1112.92 1592.11 L1118.35 1592.26 L1123.78 1592.41 L1129.20 1592.56 L1134.62 1592.71 L1140.05 1592.85 L1145.48 1592.99 L1150.90 1593.13 L1156.33 1593.27 L1161.75 1593.41 L1167.18 1593.54 L1172.60 1593.67 L1178.03 1593.81 L1183.45 1593.94 L1188.88 1594.06 L1194.30 1594.19 L1199.73 1594.32 L1205.15 1594.45 L1210.58 1594.57 L1216.00 1594.69 L1221.42 1594.82 L1226.85 1594.94 L1232.28 1595.06 L1237.70 1595.18 L1243.12 1595.31 L1248.55 1595.43 L1253.98 1595.55 L1259.40 1595.67" stroke="#ffff00" stroke-width="6.80"/>
<path d="M174.40 1137.30 L179.83 1150.91 L185.25 1164.12 L190.68 1176.94 L196.10 1189.38 L201.53 1201.44 L206.95 1213.15 L212.38 1224.51 L217.80 1235.54 L223.22 1246.23 L228.65 1256.61 L234.07 1266.68 L239.50 1276.45 L244.93 1285.93 L250.35 1295.13 L255.78 1304.06 L261.20 1312.72 L266.62 1321.12 L272.05 1329.28 L277.48 1337.19 L282.90 1344.87 L288.32 1352.32 L293.75 1359.54 L299.18 1366.56 L304.60 1373.36 L310.02 1379.97 L315.45 1386.37 L320.88 1392.59 L326.30 1398.62 L331.73 1404.47 L337.15 1410.15 L342.58 1415.66 L348.00 1421.01 L353.43 1426.20 L358.85 1431.23 L364.27 1436.12 L369.70 1440.85 L375.12 1445.45 L380.55 1449.91 L385.98 1454.24 L391.40 1458.45 L396.82 1462.52 L402.25 1466.48 L407.68 1470.31 L413.10 1474.04 L418.52 1477.65 L423.95 1481.16 L429.38 1484.56 L434.80 1487.86 L440.23 1491.06 L445.65 1494.17 L451.08 1497.18 L456.50 1500.11 L461.93 1502.95 L467.35 1505.70 L472.77 1508.38 L478.20 1510.97 L483.62 1513.49 L489.05 1515.93 L494.48 1518.30 L499.90 1520.60 L505.33 1522.83 L510.75 1524.99 L516.17 1527.09 L521.60 1529.13 L527.02 1531.11 L532.45 1533.03 L537.88 1534.89 L543.30 1536.69 L548.73 1538.45 L554.15 1540.15 L559.57 1541.80 L565.00 1543.40 L570.42 1544.95 L575.85 1546.46 L581.27 1547.92 L586.70 1549.34 L592.12 1550.72 L597.55 1552.06 L602.98 1553.35 L608.40 1554.61 L613.83 1555.83 L619.25 1557.02 L624.67 1558.17 L630.10 1559.28 L635.52 1560.37 L640.95 1561.42 L646.38 1562.44 L651.80 1563.43 L657.23 1564.39 L662.65 1565.32 L668.08 1566.22 L673.50 1567.10 L678.93 1567.95 L684.35 1568.78 L689.77 1569.58 L695.20 1570.35 L700.62 1571.11 L706.05 1571.84 L711.48 1572.55 L716.90 1573.24 L722.32 1573.91 L727.75 1574.56 L733.17 1575.19 L738.60 1575.80 L744.02 1576.40 L749.45 1576.97 L754.88 1577.53 L760.30 1578.07 L765.73 1578.60 L771.15 1579.11 L776.58 1579.61 L782.00 1580.09 L787.42 1580.56 L792.85 1581.01 L798.27 1581.45 L803.70 1581.88 L809.12 1582.29 L814.55 1582.70 L819.97 1583.09 L825.40 1583.47 L830.82 1583.84 L836.25 1584.19 L841.67 1584.54 L847.10 1584.88 L852.52 1585.20 L857.95 1585.52 L863.38 1585.83 L868.80 1586.13 L874.23 1586.42 L879.65 1586.70 L885.08 1586.98 L890.50 1587.24 L895.93 1587.50 L901.35 1587.75 L906.77 1588.00 L912.20 1588.24 L917.62 1588.47 L923.05 1588.69 L928.47 1588.91 L933.90 1589.12 L939.32 1589.32 L944.75 1589.52 L950.17 1589.72 L955.60 1589.91 L961.02 1590.09 L966.45 1590.27 L971.88 1590.44 L977.30 1590.61 L982.73 1590.78 L988.15 1590.93 L993.57 1591.09 L999.00 1591.24 L1004.42 1591.39 L1009.85 1591.53 L1015.27 1591.67 L1020.70 1591.81 L1026.12 1591.94 L1031.55 1592.07 L1036.98 1592.19 L1042.40 1592.32 L1047.83 1592.44 L1053.25 1592.55 L1058.67 1592.67 L1064.10 1592.78 L1069.53 1592.89 L1074.95 1592.99 L1080.38 1593.09 L1085.80 1593.20 L1091.22 1593.29 L1096.65 1593.39 L1102.08 1593.49 L1107.50 1593.58 L1112.92 1593.67 L1118.35 1593.76 L1123.78 1593.85 L1129.20 1593.93 L1134.62 1594.01 L1140.05 1594.10 L1145.48 1594.18 L1150.90 1594.26 L1156.33 1594.34 L1161.75 1594.41 L1167.18 1594.49 L1172.60 1594.56 L1178.03 1594.64 L1183.45 1594.71 L1188.88 1594.78 L1194.30 1594.85 L1199.73 1594.92 L1205.15 1594.99 L1210.58 1595.06 L1216.00 1595.13 L1221.42 1595.20 L1226.85 1595.27 L1232.28 1595.34 L1237.70 1595.40 L1243.12 1595.47 L1248.55 1595.54 L1253.98 1595.60 L1259.40 1595.67" stroke="#ffff00" stroke-width="6.80"/>
<path d="M174.40 1104.81 L179.83 1117.33 L185.25 1129.54 L190.68 1141.44 L196.10 1153.04 L201.53 1164.34 L206.95 1175.36 L212.38 1186.09 L217.80 1196.55 L223.22 1206.75 L228.65 1216.68 L234.07 1226.37 L239.50 1235.80 L244.93 1245.00 L250.35 1253.96 L255.78 1262.70 L261.20 1271.21 L266.62 1279.51 L272.05 1287.59 L277.48 1295.47 L282.90 1303.15 L288.32 1310.63 L293.75 1317.92 L299.18 1325.03 L304.60 1331.95 L310.02 1338.70 L315.45 1345.28 L320.88 1351.69 L326.30 1357.93 L331.73 1364.02 L337.15 1369.95 L342.58 1375.73 L348.00 1381.36 L353.43 1386.85 L358.85 1392.20 L364.27 1397.41 L369.70 1402.49 L375.12 1407.44 L380.55 1412.26 L385.98 1416.96 L391.40 1421.54 L396.82 1426.01 L402.25 1430.35 L407.68 1434.59 L413.10 1438.72 L418.52 1442.75 L423.95 1446.67 L429.38 1450.49 L434.80 1454.21 L440.23 1457.84 L445.65 1461.38 L451.08 1464.83 L456.50 1468.18 L461.93 1471.46 L467.35 1474.64 L472.77 1477.75 L478.20 1480.78 L483.62 1483.73 L489.05 1486.60 L494.48 1489.41 L499.90 1492.13 L505.33 1494.79 L510.75 1497.39 L516.17 1499.91 L521.60 1502.37 L527.02 1504.77 L532.45 1507.11 L537.88 1509.39 L543.30 1511.61 L548.73 1513.77 L554.15 1515.87 L559.57 1517.93 L565.00 1519.93 L570.42 1521.88 L575.85 1523.78 L581.27 1525.63 L586.70 1527.43 L592.12 1529.19 L597.55 1530.90 L602.98 1532.57 L608.40 1534.20 L613.83 1535.78 L619.25 1537.33 L624.67 1538.83 L630.10 1540.30 L635.52 1541.73 L640.95 1543.12 L646.38 1544.48 L651.80 1545.80 L657.23 1547.09 L662.65 1548.35 L668.08 1549.57 L673.50 1550.76 L678.93 1551.93 L684.35 1553.06 L689.77 1554.16 L695.20 1555.24 L700.62 1556.29 L706.05 1557.31 L711.48 1558.31 L716.90 1559.28 L722.32 1560.22 L727.75 1561.14 L733.17 1562.04 L738.60 1562.92 L744.02 1563.77 L749.45 1564.60 L754.88 1565.41 L760.30 1566.21 L765.73 1566.98 L771.15 1567.73 L776.58 1568.46 L782.00 1569.17 L787.42 1569.87 L792.85 1570.55 L798.27 1571.21 L803.70 1571.85 L809.12 1572.48 L814.55 1573.09 L819.97 1573.69 L825.40 1574.27 L830.82 1574.84 L836.25 1575.39 L841.67 1575.93 L847.10 1576.46 L852.52 1576.97 L857.95 1577.47 L863.38 1577.96 L868.80 1578.44 L874.23 1578.90 L879.65 1579.36 L885.08 1579.80 L890.50 1580.23 L895.93 1580.65 L901.35 1581.06 L906.77 1581.46 L912.20 1581.86 L917.62 1582.24 L923.05 1582.61 L928.47 1582.97 L933.90 1583.33 L939.32 1583.68 L944.75 1584.02 L950.17 1584.35 L955.60 1584.67 L961.02 1584.98 L966.45 1585.29 L971.88 1585.59 L977.30 1585.89 L982.73 1586.18 L988.15 1586.46 L993.57 1586.73 L999.00 1587.00 L1004.42 1587.27 L1009.85 1587.52 L1015.27 1587.78 L1020.70 1588.02 L1026.12 1588.26 L1031.55 1588.50 L1036.98 1588.73 L1042.40 1588.96 L1047.83 1589.18 L1053.25 1589.40 L1058.67 1589.61 L1064.10 1589.82 L1069.53 1590.03 L1074.95 1590.23 L1080.38 1590.43 L1085.80 1590.62 L1091.22 1590.81 L1096.65 1591.00 L1102.08 1591.19 L1107.50 1591.37 L1112.92 1591.55 L1118.35 1591.72 L1123.78 1591.89 L1129.20 1592.06 L1134.62 1592.23 L1140.05 1592.40 L1145.48 1592.56 L1150.90 1592.72 L1156.33 1592.88 L1161.75 1593.04 L1167.18 1593.20 L1172.60 1593.35 L1178.03 1593.50 L1183.45 1593.65 L1188.88 1593.80 L1194.30 1593.95 L1199.73 1594.10 L1205.15 1594.25 L1210.58 1594.39 L1216.00 1594.53 L1221.42 1594.68 L1226.85 1594.82 L1232.28 1594.96 L1237.70 1595.11 L1243.12 1595.25 L1248.55 1595.39 L1253.98 1595.53 L1259.40 1595.67" stroke="#06060c" stroke-width="7.20" stroke-dasharray="17 22.6"/>
<path d="M174.40 1142.48 L179.83 1156.29 L185.25 1169.68 L190.68 1182.66 L196.10 1195.25 L201.53 1207.45 L206.95 1219.28 L212.38 1230.75 L217.80 1241.88 L223.22 1252.66 L228.65 1263.11 L234.07 1273.25 L239.50 1283.07 L244.93 1292.60 L250.35 1301.84 L255.78 1310.79 L261.20 1319.47 L266.62 1327.89 L272.05 1336.05 L277.48 1343.96 L282.90 1351.64 L288.32 1359.07 L293.75 1366.28 L299.18 1373.27 L304.60 1380.05 L310.02 1386.62 L315.45 1392.99 L320.88 1399.17 L326.30 1405.16 L331.73 1410.97 L337.15 1416.60 L342.58 1422.05 L348.00 1427.35 L353.43 1432.48 L358.85 1437.45 L364.27 1442.27 L369.70 1446.95 L375.12 1451.48 L380.55 1455.87 L385.98 1460.13 L391.40 1464.27 L396.82 1468.27 L402.25 1472.15 L407.68 1475.92 L413.10 1479.57 L418.52 1483.11 L423.95 1486.54 L429.38 1489.86 L434.80 1493.09 L440.23 1496.22 L445.65 1499.25 L451.08 1502.19 L456.50 1505.04 L461.93 1507.80 L467.35 1510.48 L472.77 1513.07 L478.20 1515.59 L483.62 1518.03 L489.05 1520.40 L494.48 1522.69 L499.90 1524.92 L505.33 1527.08 L510.75 1529.17 L516.17 1531.20 L521.60 1533.16 L527.02 1535.07 L532.45 1536.91 L537.88 1538.71 L543.30 1540.44 L548.73 1542.13 L554.15 1543.76 L559.57 1545.34 L565.00 1546.88 L570.42 1548.37 L575.85 1549.81 L581.27 1551.21 L586.70 1552.56 L592.12 1553.88 L597.55 1555.15 L602.98 1556.39 L608.40 1557.59 L613.83 1558.75 L619.25 1559.88 L624.67 1560.97 L630.10 1562.03 L635.52 1563.05 L640.95 1564.05 L646.38 1565.02 L651.80 1565.95 L657.23 1566.86 L662.65 1567.74 L668.08 1568.59 L673.50 1569.42 L678.93 1570.22 L684.35 1571.00 L689.77 1571.75 L695.20 1572.48 L700.62 1573.19 L706.05 1573.88 L711.48 1574.55 L716.90 1575.19 L722.32 1575.82 L727.75 1576.43 L733.17 1577.02 L738.60 1577.59 L744.02 1578.14 L749.45 1578.68 L754.88 1579.20 L760.30 1579.71 L765.73 1580.19 L771.15 1580.67 L776.58 1581.13 L782.00 1581.58 L787.42 1582.01 L792.85 1582.43 L798.27 1582.84 L803.70 1583.23 L809.12 1583.62 L814.55 1583.99 L819.97 1584.35 L825.40 1584.70 L830.82 1585.04 L836.25 1585.37 L841.67 1585.69 L847.10 1586.00 L852.52 1586.30 L857.95 1586.59 L863.38 1586.87 L868.80 1587.14 L874.23 1587.41 L879.65 1587.67 L885.08 1587.92 L890.50 1588.16 L895.93 1588.40 L901.35 1588.63 L906.77 1588.85 L912.20 1589.06 L917.62 1589.27 L923.05 1589.48 L928.47 1589.67 L933.90 1589.86 L939.32 1590.05 L944.75 1590.23 L950.17 1590.41 L955.60 1590.58 L961.02 1590.74 L966.45 1590.90 L971.88 1591.06 L977.30 1591.21 L982.73 1591.36 L988.15 1591.50 L993.57 1591.64 L999.00 1591.78 L1004.42 1591.91 L1009.85 1592.04 L1015.27 1592.16 L1020.70 1592.28 L1026.12 1592.40 L1031.55 1592.51 L1036.98 1592.63 L1042.40 1592.73 L1047.83 1592.84 L1053.25 1592.94 L1058.67 1593.05 L1064.10 1593.14 L1069.53 1593.24 L1074.95 1593.33 L1080.38 1593.42 L1085.80 1593.51 L1091.22 1593.60 L1096.65 1593.69 L1102.08 1593.77 L1107.50 1593.85 L1112.92 1593.93 L1118.35 1594.01 L1123.78 1594.08 L1129.20 1594.16 L1134.62 1594.23 L1140.05 1594.30 L1145.48 1594.37 L1150.90 1594.44 L1156.33 1594.51 L1161.75 1594.58 L1167.18 1594.65 L1172.60 1594.71 L1178.03 1594.78 L1183.45 1594.84 L1188.88 1594.90 L1194.30 1594.96 L1199.73 1595.02 L1205.15 1595.09 L1210.58 1595.15 L1216.00 1595.20 L1221.42 1595.26 L1226.85 1595.32 L1232.28 1595.38 L1237.70 1595.44 L1243.12 1595.50 L1248.55 1595.55 L1253.98 1595.61 L1259.40 1595.67" stroke="#06060c" stroke-width="7.20" stroke-dasharray="17 22.6"/>
<path d="M174.40 1174.68 L179.83 1189.49 L185.25 1203.77 L190.68 1217.55 L196.10 1230.85 L201.53 1243.68 L206.95 1256.06 L212.38 1268.00 L217.80 1279.52 L223.22 1290.64 L228.65 1301.37 L234.07 1311.72 L239.50 1321.70 L244.93 1331.34 L250.35 1340.63 L255.78 1349.60 L261.20 1358.26 L266.62 1366.61 L272.05 1374.66 L277.48 1382.43 L282.90 1389.93 L288.32 1397.17 L293.75 1404.15 L299.18 1410.88 L304.60 1417.38 L310.02 1423.65 L315.45 1429.70 L320.88 1435.54 L326.30 1441.17 L331.73 1446.60 L337.15 1451.84 L342.58 1456.90 L348.00 1461.78 L353.43 1466.49 L358.85 1471.03 L364.27 1475.42 L369.70 1479.65 L375.12 1483.73 L380.55 1487.66 L385.98 1491.46 L391.40 1495.13 L396.82 1498.66 L402.25 1502.07 L407.68 1505.36 L413.10 1508.54 L418.52 1511.60 L423.95 1514.56 L429.38 1517.41 L434.80 1520.17 L440.23 1522.82 L445.65 1525.38 L451.08 1527.85 L456.50 1530.24 L461.93 1532.54 L467.35 1534.76 L472.77 1536.90 L478.20 1538.97 L483.62 1540.96 L489.05 1542.89 L494.48 1544.74 L499.90 1546.54 L505.33 1548.26 L510.75 1549.93 L516.17 1551.54 L521.60 1553.09 L527.02 1554.59 L532.45 1556.03 L537.88 1557.43 L543.30 1558.77 L548.73 1560.07 L554.15 1561.32 L559.57 1562.53 L565.00 1563.70 L570.42 1564.82 L575.85 1565.91 L581.27 1566.95 L586.70 1567.96 L592.12 1568.94 L597.55 1569.88 L602.98 1570.79 L608.40 1571.66 L613.83 1572.51 L619.25 1573.32 L624.67 1574.11 L630.10 1574.87 L635.52 1575.60 L640.95 1576.30 L646.38 1576.98 L651.80 1577.64 L657.23 1578.28 L662.65 1578.89 L668.08 1579.48 L673.50 1580.05 L678.93 1580.60 L684.35 1581.13 L689.77 1581.64 L695.20 1582.14 L700.62 1582.61 L706.05 1583.07 L711.48 1583.52 L716.90 1583.94 L722.32 1584.36 L727.75 1584.75 L733.17 1585.14 L738.60 1585.51 L744.02 1585.87 L749.45 1586.21 L754.88 1586.55 L760.30 1586.87 L765.73 1587.18 L771.15 1587.48 L776.58 1587.77 L782.00 1588.05 L787.42 1588.32 L792.85 1588.58 L798.27 1588.83 L803.70 1589.07 L809.12 1589.30 L814.55 1589.53 L819.97 1589.74 L825.40 1589.95 L830.82 1590.16 L836.25 1590.35 L841.67 1590.54 L847.10 1590.72 L852.52 1590.90 L857.95 1591.07 L863.38 1591.23 L868.80 1591.39 L874.23 1591.54 L879.65 1591.69 L885.08 1591.83 L890.50 1591.97 L895.93 1592.10 L901.35 1592.23 L906.77 1592.35 L912.20 1592.47 L917.62 1592.58 L923.05 1592.69 L928.47 1592.80 L933.90 1592.90 L939.32 1593.00 L944.75 1593.10 L950.17 1593.19 L955.60 1593.28 L961.02 1593.37 L966.45 1593.46 L971.88 1593.54 L977.30 1593.62 L982.73 1593.69 L988.15 1593.76 L993.57 1593.84 L999.00 1593.90 L1004.42 1593.97 L1009.85 1594.03 L1015.27 1594.10 L1020.70 1594.16 L1026.12 1594.21 L1031.55 1594.27 L1036.98 1594.33 L1042.40 1594.38 L1047.83 1594.43 L1053.25 1594.48 L1058.67 1594.53 L1064.10 1594.57 L1069.53 1594.62 L1074.95 1594.66 L1080.38 1594.70 L1085.80 1594.74 L1091.22 1594.78 L1096.65 1594.82 L1102.08 1594.86 L1107.50 1594.90 L1112.92 1594.93 L1118.35 1594.97 L1123.78 1595.00 L1129.20 1595.04 L1134.62 1595.07 L1140.05 1595.10 L1145.48 1595.13 L1150.90 1595.16 L1156.33 1595.19 L1161.75 1595.22 L1167.18 1595.25 L1172.60 1595.27 L1178.03 1595.30 L1183.45 1595.33 L1188.88 1595.35 L1194.30 1595.38 L1199.73 1595.40 L1205.15 1595.43 L1210.58 1595.45 L1216.00 1595.48 L1221.42 1595.50 L1226.85 1595.53 L1232.28 1595.55 L1237.70 1595.58 L1243.12 1595.60 L1248.55 1595.62 L1253.98 1595.65 L1259.40 1595.67" stroke="#06060c" stroke-width="7.20" stroke-dasharray="17 22.6"/>
<path d="M174.40 1202.86 L179.83 1218.53 L185.25 1233.57 L190.68 1248.01 L196.10 1261.88 L201.53 1275.19 L206.95 1287.97 L212.38 1300.24 L217.80 1312.03 L223.22 1323.34 L228.65 1334.20 L234.07 1344.63 L239.50 1354.64 L244.93 1364.25 L250.35 1373.48 L255.78 1382.34 L261.20 1390.85 L266.62 1399.02 L272.05 1406.86 L277.48 1414.39 L282.90 1421.62 L288.32 1428.57 L293.75 1435.23 L299.18 1441.63 L304.60 1447.77 L310.02 1453.67 L315.45 1459.33 L320.88 1464.77 L326.30 1469.99 L331.73 1475.00 L337.15 1479.82 L342.58 1484.44 L348.00 1488.87 L353.43 1493.13 L358.85 1497.22 L364.27 1501.15 L369.70 1504.92 L375.12 1508.54 L380.55 1512.01 L385.98 1515.35 L391.40 1518.55 L396.82 1521.63 L402.25 1524.58 L407.68 1527.42 L413.10 1530.14 L418.52 1532.75 L423.95 1535.26 L429.38 1537.67 L434.80 1539.98 L440.23 1542.21 L445.65 1544.34 L451.08 1546.38 L456.50 1548.35 L461.93 1550.24 L467.35 1552.05 L472.77 1553.79 L478.20 1555.46 L483.62 1557.06 L489.05 1558.60 L494.48 1560.08 L499.90 1561.50 L505.33 1562.86 L510.75 1564.17 L516.17 1565.43 L521.60 1566.63 L527.02 1567.79 L532.45 1568.90 L537.88 1569.97 L543.30 1571.00 L548.73 1571.98 L554.15 1572.93 L559.57 1573.83 L565.00 1574.70 L570.42 1575.54 L575.85 1576.34 L581.27 1577.11 L586.70 1577.85 L592.12 1578.56 L597.55 1579.25 L602.98 1579.90 L608.40 1580.53 L613.83 1581.13 L619.25 1581.71 L624.67 1582.27 L630.10 1582.81 L635.52 1583.32 L640.95 1583.81 L646.38 1584.28 L651.80 1584.74 L657.23 1585.17 L662.65 1585.59 L668.08 1585.99 L673.50 1586.38 L678.93 1586.75 L684.35 1587.11 L689.77 1587.45 L695.20 1587.78 L700.62 1588.09 L706.05 1588.39 L711.48 1588.68 L716.90 1588.96 L722.32 1589.23 L727.75 1589.49 L733.17 1589.73 L738.60 1589.97 L744.02 1590.20 L749.45 1590.42 L754.88 1590.63 L760.30 1590.83 L765.73 1591.02 L771.15 1591.21 L776.58 1591.39 L782.00 1591.56 L787.42 1591.72 L792.85 1591.88 L798.27 1592.03 L803.70 1592.18 L809.12 1592.31 L814.55 1592.45 L819.97 1592.58 L825.40 1592.70 L830.82 1592.82 L836.25 1592.93 L841.67 1593.04 L847.10 1593.15 L852.52 1593.25 L857.95 1593.35 L863.38 1593.44 L868.80 1593.53 L874.23 1593.62 L879.65 1593.70 L885.08 1593.78 L890.50 1593.85 L895.93 1593.93 L901.35 1594.00 L906.77 1594.06 L912.20 1594.13 L917.62 1594.19 L923.05 1594.25 L928.47 1594.31 L933.90 1594.36 L939.32 1594.42 L944.75 1594.47 L950.17 1594.51 L955.60 1594.56 L961.02 1594.61 L966.45 1594.65 L971.88 1594.69 L977.30 1594.73 L982.73 1594.77 L988.15 1594.81 L993.57 1594.84 L999.00 1594.88 L1004.42 1594.91 L1009.85 1594.94 L1015.27 1594.97 L1020.70 1595.00 L1026.12 1595.03 L1031.55 1595.06 L1036.98 1595.08 L1042.40 1595.11 L1047.83 1595.13 L1053.25 1595.16 L1058.67 1595.18 L1064.10 1595.20 L1069.53 1595.22 L1074.95 1595.24 L1080.38 1595.26 L1085.80 1595.28 L1091.22 1595.30 L1096.65 1595.31 L1102.08 1595.33 L1107.50 1595.35 L1112.92 1595.36 L1118.35 1595.38 L1123.78 1595.39 L1129.20 1595.41 L1134.62 1595.42 L1140.05 1595.44 L1145.48 1595.45 L1150.90 1595.46 L1156.33 1595.47 L1161.75 1595.49 L1167.18 1595.50 L1172.60 1595.51 L1178.03 1595.52 L1183.45 1595.53 L1188.88 1595.54 L1194.30 1595.55 L1199.73 1595.56 L1205.15 1595.57 L1210.58 1595.58 L1216.00 1595.59 L1221.42 1595.60 L1226.85 1595.61 L1232.28 1595.62 L1237.70 1595.63 L1243.12 1595.64 L1248.55 1595.65 L1253.98 1595.66 L1259.40 1595.67" stroke="#06060c" stroke-width="7.20" stroke-dasharray="17 22.6"/>
<path d="M174.40 1226.73 L179.83 1243.18 L185.25 1258.89 L190.68 1273.90 L196.10 1288.24 L201.53 1301.95 L206.95 1315.04 L212.38 1327.55 L217.80 1339.50 L223.22 1350.92 L228.65 1361.83 L234.07 1372.25 L239.50 1382.21 L244.93 1391.73 L250.35 1400.82 L255.78 1409.51 L261.20 1417.80 L266.62 1425.73 L272.05 1433.31 L277.48 1440.54 L282.90 1447.46 L288.32 1454.07 L293.75 1460.38 L299.18 1466.41 L304.60 1472.17 L310.02 1477.68 L315.45 1482.94 L320.88 1487.96 L326.30 1492.76 L331.73 1497.35 L337.15 1501.73 L342.58 1505.92 L348.00 1509.92 L353.43 1513.74 L358.85 1517.39 L364.27 1520.88 L369.70 1524.22 L375.12 1527.40 L380.55 1530.45 L385.98 1533.35 L391.40 1536.13 L396.82 1538.78 L402.25 1541.32 L407.68 1543.74 L413.10 1546.06 L418.52 1548.27 L423.95 1550.38 L429.38 1552.40 L434.80 1554.33 L440.23 1556.17 L445.65 1557.93 L451.08 1559.61 L456.50 1561.22 L461.93 1562.76 L467.35 1564.22 L472.77 1565.63 L478.20 1566.97 L483.62 1568.25 L489.05 1569.47 L494.48 1570.64 L499.90 1571.75 L505.33 1572.82 L510.75 1573.84 L516.17 1574.81 L521.60 1575.74 L527.02 1576.63 L532.45 1577.48 L537.88 1578.29 L543.30 1579.06 L548.73 1579.80 L554.15 1580.51 L559.57 1581.19 L565.00 1581.83 L570.42 1582.45 L575.85 1583.04 L581.27 1583.60 L586.70 1584.14 L592.12 1584.65 L597.55 1585.14 L602.98 1585.61 L608.40 1586.06 L613.83 1586.49 L619.25 1586.90 L624.67 1587.29 L630.10 1587.66 L635.52 1588.02 L640.95 1588.36 L646.38 1588.69 L651.80 1589.00 L657.23 1589.30 L662.65 1589.58 L668.08 1589.85 L673.50 1590.11 L678.93 1590.36 L684.35 1590.60 L689.77 1590.82 L695.20 1591.04 L700.62 1591.24 L706.05 1591.44 L711.48 1591.63 L716.90 1591.81 L722.32 1591.98 L727.75 1592.15 L733.17 1592.30 L738.60 1592.45 L744.02 1592.60 L749.45 1592.73 L754.88 1592.86 L760.30 1592.99 L765.73 1593.11 L771.15 1593.22 L776.58 1593.33 L782.00 1593.44 L787.42 1593.54 L792.85 1593.63 L798.27 1593.72 L803.70 1593.81 L809.12 1593.89 L814.55 1593.97 L819.97 1594.05 L825.40 1594.12 L830.82 1594.19 L836.25 1594.26 L841.67 1594.32 L847.10 1594.38 L852.52 1594.44 L857.95 1594.49 L863.38 1594.54 L868.80 1594.59 L874.23 1594.64 L879.65 1594.69 L885.08 1594.73 L890.50 1594.77 L895.93 1594.81 L901.35 1594.85 L906.77 1594.89 L912.20 1594.92 L917.62 1594.96 L923.05 1594.99 L928.47 1595.02 L933.90 1595.05 L939.32 1595.08 L944.75 1595.10 L950.17 1595.13 L955.60 1595.15 L961.02 1595.18 L966.45 1595.20 L971.88 1595.22 L977.30 1595.24 L982.73 1595.26 L988.15 1595.28 L993.57 1595.30 L999.00 1595.31 L1004.42 1595.33 L1009.85 1595.35 L1015.27 1595.36 L1020.70 1595.37 L1026.12 1595.39 L1031.55 1595.40 L1036.98 1595.41 L1042.40 1595.43 L1047.83 1595.44 L1053.25 1595.45 L1058.67 1595.46 L1064.10 1595.47 L1069.53 1595.48 L1074.95 1595.49 L1080.38 1595.50 L1085.80 1595.50 L1091.22 1595.51 L1096.65 1595.52 L1102.08 1595.53 L1107.50 1595.54 L1112.92 1595.54 L1118.35 1595.55 L1123.78 1595.56 L1129.20 1595.56 L1134.62 1595.57 L1140.05 1595.57 L1145.48 1595.58 L1150.90 1595.58 L1156.33 1595.59 L1161.75 1595.60 L1167.18 1595.60 L1172.60 1595.60 L1178.03 1595.61 L1183.45 1595.61 L1188.88 1595.62 L1194.30 1595.62 L1199.73 1595.63 L1205.15 1595.63 L1210.58 1595.64 L1216.00 1595.64 L1221.42 1595.64 L1226.85 1595.65 L1232.28 1595.65 L1237.70 1595.65 L1243.12 1595.66 L1248.55 1595.66 L1253.98 1595.67 L1259.40 1595.67" stroke="#06060c" stroke-width="7.20" stroke-dasharray="17 22.6"/>
</g>
<line x1="430.1" y1="1577.7" x2="245.9" y2="1852.0" stroke="#06060c" stroke-width="2.6"/>
<polygon points="220.5,1891.3 238.9,1840.9 245.9,1852.0 257.4,1860.0" fill="#000"/>
<g stroke="#000" stroke-linecap="square">
<line x1="153.45" y1="1216.87" x2="1277.80" y2="1216.87" stroke-width="3.90"/>
<line x1="153.45" y1="2069.56" x2="1277.80" y2="2069.56" stroke-width="3.90"/>
<line x1="153.45" y1="1216.87" x2="153.45" y2="2069.56" stroke-width="3.80"/>
<line x1="1277.80" y1="1216.87" x2="1277.80" y2="2069.56" stroke-width="3.80"/>
</g>
<text transform="translate(143.00 2043.69) scale(1.0000 1.2182)" font-size="44.00" text-anchor="end" stroke="#fff" stroke-width="0.45"  >0.00</text>
<text transform="translate(143.00 1861.09) scale(1.0000 1.2182)" font-size="44.00" text-anchor="end" stroke="#fff" stroke-width="0.45"  >0.05</text>
<text transform="translate(143.00 1678.49) scale(1.0000 1.2182)" font-size="44.00" text-anchor="end" stroke="#fff" stroke-width="0.45"  >0.10</text>
<text transform="translate(143.00 1495.89) scale(1.0000 1.2182)" font-size="44.00" text-anchor="end" stroke="#fff" stroke-width="0.45"  >0.15</text>
<text transform="translate(143.00 1313.29) scale(1.0000 1.2182)" font-size="44.00" text-anchor="end" stroke="#fff" stroke-width="0.45"  >0.20</text>
<text transform="translate(175.20 2129.50) scale(1.0000 1.2182)" font-size="44.00" text-anchor="middle" stroke="#fff" stroke-width="0.45"  >0.0</text>
<text transform="translate(445.05 2129.50) scale(1.0000 1.2182)" font-size="44.00" text-anchor="middle" stroke="#fff" stroke-width="0.45"  >0.5</text>
<text transform="translate(714.90 2129.50) scale(1.0000 1.2182)" font-size="44.00" text-anchor="middle" stroke="#fff" stroke-width="0.45"  >1.0</text>
<text transform="translate(984.75 2129.50) scale(1.0000 1.2182)" font-size="44.00" text-anchor="middle" stroke="#fff" stroke-width="0.45"  >1.5</text>
<text transform="translate(1254.60 2129.50) scale(1.0000 1.2182)" font-size="44.00" text-anchor="middle" stroke="#fff" stroke-width="0.45"  >2.0</text>
<text transform="translate(717.40 2204.60) scale(1.0000 1.2182)" font-size="44.00" text-anchor="middle" stroke="#fff" stroke-width="0.45" font-style="italic" >η</text>
<text transform="translate(38.00 1643.00) rotate(-90) scale(1.1911 1)" font-size="45.00" text-anchor="middle" stroke="#fff" stroke-width="0.45"  >G'(<tspan font-style='italic'>η</tspan>)</text>
<text transform="translate(595.60 1179.80) scale(1.0160 1.2182)" font-size="44.00" text-anchor="start" stroke="#fff" stroke-width="0.45"  ><tspan font-style="italic">S</tspan><tspan font-style="italic" font-size="26.40" dy="7.30" dx="-1.5">t</tspan><tspan dy="-7.30" dx="3">=0.3,</tspan><tspan font-style="italic">γ</tspan><tspan font-size="26.40" dy="7.30" dx="1">1</tspan><tspan dy="-7.30" dx="1.5">0.3</tspan></text>
<text transform="translate(727.80 1614.80) scale(1.0000 1.2367)" font-size="33.80" text-anchor="start" stroke="#fff" stroke-width="0.45"  ><tspan font-style="italic">M</tspan>=2.0,2.5,3.0,3.5,4.0,4.5</text>
<rect x="517.70" y="1267.10" width="713.20" height="196.80" rx="6.5" ry="6.5" fill="#000"/>
<rect x="527.40" y="1278.50" width="693.80" height="174.00" rx="0.5" ry="0.5" fill="#fff"/>
<line x1="544.80" y1="1323.00" x2="602.40" y2="1323.00" stroke="#ffff00" stroke-width="4.30"/>
<line x1="545.80" y1="1408.00" x2="564.30" y2="1408.00" stroke="#06060c" stroke-width="5.80"/>
<line x1="590.10" y1="1408.00" x2="602.40" y2="1408.00" stroke="#06060c" stroke-width="5.80"/>
<text transform="translate(620.50 1334.40) scale(1.0110 1.1304)" font-size="41.40" text-anchor="start" stroke="#fff" stroke-width="0.45"  >(Al<tspan font-size="29.39" dy="8.28">2</tspan><tspan dy="-8.28">O</tspan><tspan font-size="29.39" dy="8.28">3</tspan><tspan dy="-8.28">−Fe</tspan><tspan font-size="29.39" dy="8.28">3</tspan><tspan dy="-8.28">O</tspan><tspan font-size="29.39" dy="8.28">4</tspan><tspan dy="-8.28">)/blood,</tspan><tspan font-style="italic">ϕ</tspan><tspan font-size="29.39" dy="8.28">1</tspan><tspan dy="-8.28">=</tspan><tspan font-style="italic">ϕ</tspan><tspan font-size="29.39" dy="8.28">2</tspan><tspan dy="-8.28">=0.1</tspan></text>
<text transform="translate(622.90 1419.90) scale(0.9900 1.1304)" font-size="41.40" text-anchor="start" stroke="#fff" stroke-width="0.45"  >Al<tspan font-size="29.39" dy="8.28">2</tspan><tspan dy="-8.28">O</tspan><tspan font-size="29.39" dy="8.28">3</tspan><tspan dy="-8.28">−/blood,</tspan><tspan font-style="italic">ϕ</tspan><tspan font-size="29.39" dy="8.28">1</tspan><tspan dy="-8.28">=0.1</tspan></text>
<text transform="translate(1.90 1155.00) scale(0.940 1)" font-size="44.3" font-weight="bold">B</text>
</svg></body></html>
